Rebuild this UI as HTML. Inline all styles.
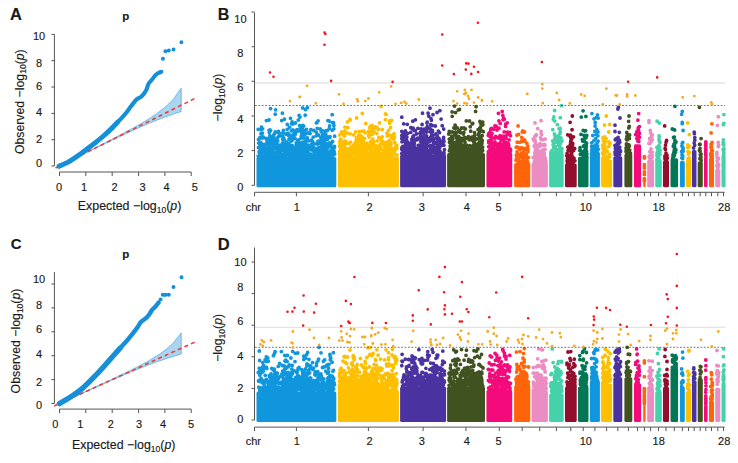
<!DOCTYPE html><html><head><meta charset="utf-8"><style>html,body{margin:0;padding:0;background:#fff;}svg{display:block;}svg text{stroke:#1a1a1a;stroke-width:0.15px;}</style></head><body>
<svg width="738" height="463" viewBox="0 0 738 463" font-family='"Liberation Sans", sans-serif' fill="#1a1a1a">
<rect width="738" height="463" fill="#fff"/>
<path d="M181.2 88.2L173.3 99.3L168.7 104.0L165.4 107.0L162.8 109.1L160.7 110.7L159.0 112.0L157.4 113.1L156.1 114.0L154.9 114.9L153.8 115.6L152.8 116.3L151.9 116.9L151.0 117.4L150.3 117.9L149.5 118.4L148.8 118.8L148.2 119.2L147.5 119.6L147.0 120.0L146.4 120.3L145.9 120.6L145.4 120.9L144.4 121.5L144.0 121.8L143.1 122.3L142.7 122.5L141.9 123.0L141.6 123.2L140.9 123.6L140.2 124.0L139.6 124.3L139.0 124.7L138.5 125.0L137.7 125.4L137.2 125.7L136.5 126.1L136.0 126.4L135.4 126.7L134.8 127.1L134.2 127.4L133.5 127.8L133.0 128.1L132.3 128.5L131.7 128.8L131.1 129.1L130.4 129.5L129.9 129.8L129.2 130.1L128.7 130.5L128.0 130.8L127.4 131.1L126.8 131.5L126.2 131.8L125.5 132.2L124.9 132.5L124.4 132.8L123.7 133.1L123.1 133.5L122.5 133.8L121.9 134.1L121.3 134.4L120.7 134.8L120.1 135.1L119.5 135.4L118.9 135.7L118.2 136.0L117.6 136.4L117.0 136.7L116.4 137.0L115.8 137.3L115.2 137.7L114.6 138.0L113.9 138.3L113.3 138.6L112.7 138.9L112.1 139.3L111.5 139.6L110.9 139.9L110.3 140.2L109.7 140.5L109.1 140.8L108.4 141.2L107.8 141.5L107.2 141.8L106.6 142.1L106.0 142.4L105.4 142.7L104.8 143.1L104.2 143.4L103.5 143.7L102.9 144.0L102.3 144.3L101.7 144.6L101.1 144.9L100.5 145.3L99.9 145.6L99.3 145.9L98.7 146.2L98.0 146.5L97.4 146.8L96.8 147.1L96.2 147.4L95.6 147.8L95.0 148.1L94.4 148.4L93.8 148.7L93.1 149.0L92.5 149.3L91.9 149.6L91.3 149.9L90.7 150.2L90.1 150.6L89.5 150.9L88.9 151.2L88.3 151.5L87.6 151.8L87.0 152.1L86.4 152.4L85.8 152.7L85.2 153.0L84.6 153.3L84.0 153.7L83.4 154.0L82.7 154.3L82.1 154.6L81.5 154.9L80.9 155.2L80.3 155.5L79.7 155.8L79.1 156.1L78.5 156.4L77.9 156.7L77.2 157.1L76.6 157.4L76.0 157.7L75.4 158.0L74.8 158.3L74.2 158.6L73.6 158.9L73.0 159.2L72.3 159.5L71.7 159.8L71.1 160.1L70.5 160.4L69.9 160.7L69.3 161.1L68.7 161.4L68.1 161.7L67.5 162.0L66.8 162.3L66.2 162.6L65.6 162.9L65.0 163.2L64.4 163.5L63.8 163.8L63.2 164.1L62.6 164.4L61.9 164.8L61.3 165.1L60.7 165.4L60.1 165.7L59.5 166.0L59.5 166.0L60.1 165.7L60.7 165.4L61.3 165.1L61.9 164.8L62.6 164.5L63.2 164.2L63.8 163.9L64.4 163.6L65.0 163.3L65.6 163.0L66.2 162.7L66.8 162.4L67.5 162.1L68.1 161.8L68.7 161.5L69.3 161.2L69.9 160.9L70.5 160.6L71.1 160.3L71.7 160.0L72.3 159.6L73.0 159.3L73.6 159.0L74.2 158.7L74.8 158.4L75.4 158.1L76.0 157.8L76.6 157.5L77.2 157.2L77.9 156.9L78.5 156.6L79.1 156.3L79.7 156.0L80.3 155.7L80.9 155.4L81.5 155.1L82.1 154.8L82.7 154.5L83.4 154.2L84.0 153.9L84.6 153.6L85.2 153.3L85.8 153.0L86.4 152.7L87.0 152.4L87.6 152.1L88.3 151.8L88.9 151.5L89.5 151.2L90.1 150.9L90.7 150.6L91.3 150.3L91.9 150.0L92.5 149.7L93.1 149.4L93.8 149.1L94.4 148.8L95.0 148.5L95.6 148.2L96.2 147.9L96.8 147.6L97.4 147.3L98.0 147.0L98.7 146.7L99.3 146.4L99.9 146.1L100.5 145.8L101.1 145.5L101.7 145.2L102.3 144.9L102.9 144.6L103.5 144.3L104.2 144.0L104.8 143.7L105.4 143.4L106.0 143.1L106.6 142.8L107.2 142.5L107.8 142.2L108.4 141.9L109.1 141.6L109.7 141.3L110.3 141.0L110.9 140.8L111.5 140.5L112.1 140.2L112.7 139.9L113.3 139.6L113.9 139.3L114.6 139.0L115.2 138.7L115.8 138.4L116.4 138.1L117.0 137.8L117.6 137.5L118.2 137.2L118.9 136.9L119.5 136.7L120.1 136.4L120.7 136.1L121.3 135.8L121.9 135.5L122.5 135.2L123.1 135.0L123.7 134.6L124.4 134.4L124.9 134.1L125.5 133.8L126.2 133.5L126.8 133.2L127.4 132.9L128.0 132.7L128.7 132.4L129.2 132.1L129.9 131.8L130.4 131.6L131.1 131.2L131.7 131.0L132.3 130.7L133.0 130.4L133.5 130.2L134.2 129.8L134.8 129.6L135.4 129.3L136.0 129.0L136.5 128.8L137.2 128.5L137.7 128.3L138.5 127.9L139.0 127.7L139.6 127.4L140.2 127.1L140.9 126.8L141.6 126.5L141.9 126.4L142.7 126.0L143.1 125.9L144.0 125.5L144.4 125.3L145.4 124.9L145.9 124.7L146.4 124.5L147.0 124.2L147.5 124.0L148.2 123.7L148.8 123.4L149.5 123.1L150.3 122.8L151.0 122.5L151.9 122.2L152.8 121.8L153.8 121.4L154.9 120.9L156.1 120.5L157.4 119.9L159.0 119.3L160.7 118.6L162.8 117.9L165.4 116.9L168.7 115.7L173.3 114.1L181.2 111.5Z" fill="#a9d5f1" stroke="#55aee3" stroke-width="0.8"/>
<line x1="54.2" y1="168.6" x2="194.7" y2="98.5" stroke="#f03a3a" stroke-width="1.6" stroke-dasharray="4 3.2" stroke-dashoffset="-1.5"/>
<path d="M59.1 166.2C60.6 165.5 65.1 163.8 68.1 162.2C71.1 160.5 74.2 158.4 77.2 156.3C80.2 154.2 82.8 152.2 85.8 149.9C88.8 147.6 92.6 144.8 95.4 142.6C98.2 140.4 100.3 138.7 102.9 136.5C105.5 134.3 108.3 131.7 110.8 129.3C113.2 126.9 115.2 124.7 117.6 122.2C120.0 119.7 122.8 116.8 125.1 114.1C127.4 111.4 129.3 108.5 131.2 106.1C133.1 103.7 134.7 101.2 136.4 99.6C138.2 98.0 140.0 97.9 141.7 96.3C143.3 94.7 145.2 92.1 146.3 90.0C147.4 87.9 147.6 85.6 148.5 83.9C149.4 82.2 150.5 81.5 151.6 80.1C152.7 78.7 154.2 76.5 155.3 75.3C156.5 74.1 157.5 73.6 158.5 73.0C159.5 72.4 160.9 72.0 161.4 71.8" stroke="#1590d8" stroke-width="4.1" stroke-linecap="round" stroke-linejoin="round" fill="none"/>
<path d="M59.1 166.2C60.6 165.5 65.1 163.8 68.1 162.2C71.1 160.5 74.2 158.4 77.2 156.3C80.2 154.2 82.8 152.2 85.8 149.9C88.8 147.6 92.6 144.8 95.4 142.6C98.2 140.4 100.3 138.7 102.9 136.5C105.5 134.3 108.3 131.7 110.8 129.3C113.2 126.9 116.5 123.4 117.6 122.2" stroke="#1590d8" stroke-width="4.9" stroke-linecap="round" stroke-linejoin="round" fill="none"/>
<path d="M162.9 58.8h0M165.4 51.3h0M168.8 50.6h0M173.5 49.4h0M181.4 42.3h0" stroke="#1590d8" stroke-width="4.0" stroke-linecap="round" fill="none"/>
<path d="M54.4 34.4V166.0" stroke="#555555" stroke-width="1" fill="none"/>
<path d="M51.4 166.0H54.4M51.4 139.7H54.4M51.4 113.4H54.4M51.4 87.0H54.4M51.4 60.7H54.4M51.4 34.4H54.4" stroke="#555555" stroke-width="1" fill="none"/>
<text x="39.1" y="40.2" text-anchor="middle" font-size="11">10</text>
<text x="39.1" y="66.9" text-anchor="middle" font-size="11">8</text>
<text x="39.1" y="90.2" text-anchor="middle" font-size="11">6</text>
<text x="39.1" y="115.6" text-anchor="middle" font-size="11">4</text>
<text x="39.1" y="143.3" text-anchor="middle" font-size="11">2</text>
<text x="39.1" y="166.7" text-anchor="middle" font-size="11">0</text>
<path d="M59.5 172H191.2" stroke="#555555" stroke-width="1" fill="none"/>
<path d="M59.5 172v4M85.8 172v4M112.2 172v4M138.6 172v4M164.9 172v4M191.2 172v4" stroke="#555555" stroke-width="1" fill="none"/>
<text x="59" y="190.8" text-anchor="middle" font-size="11">0</text>
<text x="84" y="190.8" text-anchor="middle" font-size="11">1</text>
<text x="114.5" y="190.8" text-anchor="middle" font-size="11">2</text>
<text x="142.5" y="190.8" text-anchor="middle" font-size="11">3</text>
<text x="166.6" y="190.8" text-anchor="middle" font-size="11">4</text>
<text x="194.7" y="190.8" text-anchor="middle" font-size="11">5</text>
<text x="129.6" y="210.4" text-anchor="middle" font-size="12.4">Expected &#8722;log<tspan font-size="8.5" dy="2.5">10</tspan><tspan dy="-2.5">(</tspan><tspan font-style="italic">p</tspan>)</text>
<text transform="translate(23.9 101.7) rotate(-90)" text-anchor="middle" font-size="12.3">Observed &#8722;log<tspan font-size="8.5" dy="2.5">10</tspan><tspan dy="-2.5">(</tspan><tspan font-style="italic">p</tspan>)</text>
<text x="125.7" y="19.8" text-anchor="middle" font-size="11.5" font-weight="bold">p</text>
<text x="10" y="19.5" font-size="16.5" font-weight="bold">A</text>
<path d="M181.2 332.9L173.3 342.9L168.7 347.2L165.4 349.9L162.8 351.8L160.7 353.3L159.0 354.5L157.4 355.5L156.1 356.3L154.9 357.1L153.8 357.7L152.8 358.3L151.9 358.9L151.0 359.4L150.3 359.8L149.5 360.3L148.8 360.7L148.2 361.0L147.5 361.4L147.0 361.7L146.4 362.0L145.9 362.3L145.4 362.6L144.4 363.1L144.0 363.4L143.1 363.8L142.7 364.0L141.9 364.4L141.6 364.6L140.9 365.0L140.2 365.3L139.6 365.7L139.0 366.0L138.5 366.3L137.7 366.7L137.2 366.9L136.5 367.3L136.0 367.5L135.4 367.9L134.8 368.2L134.2 368.5L133.5 368.8L133.0 369.1L132.3 369.4L131.7 369.7L131.1 370.0L130.4 370.4L129.9 370.6L129.2 370.9L128.7 371.2L128.0 371.6L127.4 371.8L126.8 372.1L126.2 372.5L125.5 372.8L124.9 373.1L124.4 373.3L123.7 373.6L123.1 374.0L122.5 374.2L121.9 374.6L121.3 374.8L120.7 375.1L120.1 375.4L119.5 375.7L118.9 376.0L118.2 376.3L117.6 376.6L117.0 376.9L116.4 377.2L115.8 377.5L115.2 377.8L114.6 378.1L113.9 378.3L113.3 378.6L112.7 378.9L112.1 379.2L111.5 379.5L110.9 379.8L110.3 380.1L109.7 380.4L109.1 380.7L108.4 380.9L107.8 381.2L107.2 381.5L106.6 381.8L106.0 382.1L105.4 382.4L104.8 382.7L104.2 383.0L103.5 383.2L102.9 383.5L102.3 383.8L101.7 384.1L101.1 384.4L100.5 384.7L99.9 384.9L99.3 385.2L98.7 385.5L98.0 385.8L97.4 386.1L96.8 386.4L96.2 386.6L95.6 386.9L95.0 387.2L94.4 387.5L93.8 387.8L93.1 388.1L92.5 388.3L91.9 388.6L91.3 388.9L90.7 389.2L90.1 389.5L89.5 389.8L88.9 390.0L88.3 390.3L87.6 390.6L87.0 390.9L86.4 391.2L85.8 391.4L85.2 391.7L84.6 392.0L84.0 392.3L83.4 392.6L82.7 392.8L82.1 393.1L81.5 393.4L80.9 393.7L80.3 394.0L79.7 394.3L79.1 394.5L78.5 394.8L77.9 395.1L77.2 395.4L76.6 395.7L76.0 395.9L75.4 396.2L74.8 396.5L74.2 396.8L73.6 397.1L73.0 397.3L72.3 397.6L71.7 397.9L71.1 398.2L70.5 398.5L69.9 398.7L69.3 399.0L68.7 399.3L68.1 399.6L67.5 399.9L66.8 400.1L66.2 400.4L65.6 400.7L65.0 401.0L64.4 401.2L63.8 401.5L63.2 401.8L62.6 402.1L61.9 402.4L61.3 402.7L60.7 402.9L60.1 403.2L59.5 403.5L59.5 403.5L60.1 403.2L60.7 403.0L61.3 402.7L61.9 402.4L62.6 402.1L63.2 401.9L63.8 401.6L64.4 401.3L65.0 401.0L65.6 400.8L66.2 400.5L66.8 400.2L67.5 399.9L68.1 399.7L68.7 399.4L69.3 399.1L69.9 398.8L70.5 398.6L71.1 398.3L71.7 398.0L72.3 397.7L73.0 397.5L73.6 397.2L74.2 396.9L74.8 396.6L75.4 396.4L76.0 396.1L76.6 395.8L77.2 395.5L77.9 395.3L78.5 395.0L79.1 394.7L79.7 394.4L80.3 394.2L80.9 393.9L81.5 393.6L82.1 393.3L82.7 393.1L83.4 392.8L84.0 392.5L84.6 392.2L85.2 392.0L85.8 391.7L86.4 391.4L87.0 391.1L87.6 390.9L88.3 390.6L88.9 390.3L89.5 390.1L90.1 389.8L90.7 389.5L91.3 389.2L91.9 389.0L92.5 388.7L93.1 388.4L93.8 388.1L94.4 387.9L95.0 387.6L95.6 387.3L96.2 387.1L96.8 386.8L97.4 386.5L98.0 386.2L98.7 386.0L99.3 385.7L99.9 385.4L100.5 385.2L101.1 384.9L101.7 384.6L102.3 384.3L102.9 384.1L103.5 383.8L104.2 383.5L104.8 383.3L105.4 383.0L106.0 382.7L106.6 382.5L107.2 382.2L107.8 381.9L108.4 381.6L109.1 381.4L109.7 381.1L110.3 380.8L110.9 380.6L111.5 380.3L112.1 380.0L112.7 379.8L113.3 379.5L113.9 379.2L114.6 379.0L115.2 378.7L115.8 378.5L116.4 378.2L117.0 377.9L117.6 377.7L118.2 377.4L118.9 377.1L119.5 376.9L120.1 376.6L120.7 376.3L121.3 376.1L121.9 375.8L122.5 375.5L123.1 375.3L123.7 375.0L124.4 374.8L124.9 374.5L125.5 374.3L126.2 374.0L126.8 373.7L127.4 373.5L128.0 373.2L128.7 373.0L129.2 372.7L129.9 372.4L130.4 372.2L131.1 371.9L131.7 371.7L132.3 371.4L133.0 371.2L133.5 371.0L134.2 370.7L134.8 370.4L135.4 370.2L136.0 369.9L136.5 369.7L137.2 369.4L137.7 369.2L138.5 368.9L139.0 368.7L139.6 368.5L140.2 368.2L140.9 367.9L141.6 367.7L141.9 367.5L142.7 367.2L143.1 367.1L144.0 366.7L144.4 366.6L145.4 366.2L145.9 366.0L146.4 365.8L147.0 365.6L147.5 365.3L148.2 365.1L148.8 364.8L149.5 364.6L150.3 364.3L151.0 364.0L151.9 363.7L152.8 363.3L153.8 363.0L154.9 362.6L156.1 362.1L157.4 361.7L159.0 361.1L160.7 360.5L162.8 359.8L165.4 358.9L168.7 357.8L173.3 356.4L181.2 354.0Z" fill="#a9d5f1" stroke="#55aee3" stroke-width="0.8"/>
<line x1="54.2" y1="405.9" x2="194.7" y2="342.2" stroke="#f03a3a" stroke-width="1.6" stroke-dasharray="4 3.2" stroke-dashoffset="1.0"/>
<path d="M59.4 403.7C60.2 403.2 62.6 401.8 64.5 400.6C66.4 399.5 68.0 398.7 70.8 396.8C73.6 394.9 78.0 392.1 81.6 389.1C85.2 386.1 88.8 382.4 92.4 378.7C96.0 375.0 100.3 370.4 103.2 367.2C106.1 364.0 107.2 362.6 110.0 359.5C112.8 356.4 117.3 351.3 120.0 348.3C122.7 345.3 124.0 344.1 126.0 341.7C128.1 339.3 130.4 336.6 132.3 334.2C134.2 331.8 136.3 329.0 137.7 327.0C139.1 325.0 139.5 323.6 140.9 322.1C142.3 320.6 144.9 319.2 146.3 317.8C147.8 316.4 148.7 315.2 149.6 314.0C150.5 312.8 150.7 311.6 151.7 310.3C152.7 309.1 154.3 307.8 155.5 306.5C156.7 305.2 158.1 303.2 158.6 302.6" stroke="#1590d8" stroke-width="4.4" stroke-linecap="round" stroke-linejoin="round" fill="none"/>
<path d="M59.4 403.7C60.2 403.2 62.6 401.8 64.5 400.6C66.4 399.5 68.0 398.7 70.8 396.8C73.6 394.9 78.0 392.1 81.6 389.1C85.2 386.1 88.8 382.4 92.4 378.7C96.0 375.0 100.3 370.4 103.2 367.2C106.1 364.0 107.2 362.6 110.0 359.5C112.8 356.4 118.3 350.2 120.0 348.3" stroke="#1590d8" stroke-width="5.3" stroke-linecap="round" stroke-linejoin="round" fill="none"/>
<path d="M160.6 299.4h0M162.8 294.7h0M165.7 294.7h0M168.8 294.7h0M173.5 287.1h0M181.5 277.2h0" stroke="#1590d8" stroke-width="4.0" stroke-linecap="round" fill="none"/>
<path d="M54.4 272.0V403.5" stroke="#555555" stroke-width="1" fill="none"/>
<path d="M51.4 403.5H54.4M51.4 379.6H54.4M51.4 355.7H54.4M51.4 331.8H54.4M51.4 307.9H54.4M51.4 284.0H54.4" stroke="#555555" stroke-width="1" fill="none"/>
<text x="39.1" y="282.5" text-anchor="middle" font-size="11">10</text>
<text x="39.1" y="309.3" text-anchor="middle" font-size="11">8</text>
<text x="39.1" y="333.1" text-anchor="middle" font-size="11">6</text>
<text x="39.1" y="357.7" text-anchor="middle" font-size="11">4</text>
<text x="39.1" y="385.9" text-anchor="middle" font-size="11">2</text>
<text x="39.1" y="409.1" text-anchor="middle" font-size="11">0</text>
<path d="M59.5 409.1H191.2" stroke="#555555" stroke-width="1" fill="none"/>
<path d="M59.5 409.1v4M85.8 409.1v4M112.2 409.1v4M138.6 409.1v4M164.9 409.1v4M191.2 409.1v4" stroke="#555555" stroke-width="1" fill="none"/>
<text x="55.3" y="427.8" text-anchor="middle" font-size="11">0</text>
<text x="80.2" y="427.8" text-anchor="middle" font-size="11">1</text>
<text x="110.8" y="427.8" text-anchor="middle" font-size="11">2</text>
<text x="139" y="427.8" text-anchor="middle" font-size="11">3</text>
<text x="163.1" y="427.8" text-anchor="middle" font-size="11">4</text>
<text x="191" y="427.8" text-anchor="middle" font-size="11">5</text>
<text x="123.7" y="449.4" text-anchor="middle" font-size="12.4">Expected &#8722;log<tspan font-size="8.5" dy="2.5">10</tspan><tspan dy="-2.5">(</tspan><tspan font-style="italic">p</tspan>)</text>
<text transform="translate(20.2 341) rotate(-90)" text-anchor="middle" font-size="12.3">Observed &#8722;log<tspan font-size="8.5" dy="2.5">10</tspan><tspan dy="-2.5">(</tspan><tspan font-style="italic">p</tspan>)</text>
<text x="125.7" y="257.7" text-anchor="middle" font-size="11.5" font-weight="bold">p</text>
<text x="10.8" y="248.9" font-size="15" font-weight="bold">C</text>
<rect x="256.5" y="157.1" width="79.8" height="30.1" rx="1.5" fill="#0f96dc"/>
<rect x="337.8" y="156.2" width="61.1" height="31.0" rx="1.5" fill="#fdbf00"/>
<rect x="400.1" y="154.8" width="46.0" height="32.4" rx="1.5" fill="#4a33a0"/>
<rect x="447.1" y="153.1" width="37.9" height="34.1" rx="1.5" fill="#3f521f"/>
<rect x="486.4" y="152.5" width="25.8" height="34.7" rx="1.5" fill="#f50a7c"/>
<rect x="514.1" y="163.1" width="16.2" height="24.1" rx="1.5" fill="#ff640a"/>
<rect x="531.5" y="162.4" width="16.4" height="24.8" rx="1.5" fill="#eb8cc3"/>
<rect x="549.1" y="154.6" width="14.6" height="32.6" rx="1.5" fill="#45d2aa"/>
<rect x="565.0" y="163.5" width="11.7" height="23.7" rx="1.5" fill="#930d2d"/>
<rect x="578.0" y="156.7" width="10.5" height="30.5" rx="1.5" fill="#037656"/>
<rect x="589.8" y="151.7" width="10.1" height="35.5" rx="1.5" fill="#0f96dc"/>
<rect x="601.1" y="159.7" width="11.0" height="27.5" rx="1.5" fill="#fdbf00"/>
<rect x="613.3" y="156.2" width="9.0" height="31.0" rx="1.5" fill="#4a33a0"/>
<rect x="624.4" y="153.9" width="7.9" height="33.3" rx="1.5" fill="#3f521f"/>
<rect x="633.9" y="144.2" width="7.2" height="43.0" rx="1.5" fill="#f50a7c"/>
<rect x="643.2" y="181.8" width="2.4" height="5.4" rx="1.5" fill="#ff640a"/>
<rect x="647.2" y="159.7" width="6.8" height="27.5" rx="1.5" fill="#eb8cc3"/>
<rect x="655.2" y="159.5" width="6.6" height="27.7" rx="1.5" fill="#45d2aa"/>
<rect x="663.0" y="160.2" width="6.0" height="27.0" rx="1.5" fill="#930d2d"/>
<rect x="670.5" y="158.3" width="7.6" height="28.9" rx="1.5" fill="#037656"/>
<rect x="679.9" y="160.9" width="4.9" height="26.3" rx="1.5" fill="#0f96dc"/>
<rect x="686.0" y="159.0" width="5.0" height="28.2" rx="1.5" fill="#fdbf00"/>
<rect x="691.9" y="149.9" width="4.6" height="37.3" rx="1.5" fill="#4a33a0"/>
<rect x="697.7" y="161.6" width="5.1" height="25.6" rx="1.5" fill="#3f521f"/>
<rect x="704.0" y="156.4" width="3.6" height="30.8" rx="1.5" fill="#f50a7c"/>
<rect x="709.0" y="157.1" width="5.0" height="30.1" rx="1.5" fill="#ff640a"/>
<rect x="715.2" y="169.0" width="5.1" height="18.2" rx="1.5" fill="#eb8cc3"/>
<rect x="721.5" y="154.5" width="4.1" height="32.7" rx="1.5" fill="#45d2aa"/>
<path transform="scale(0.1)" d="M2754 1318h0M2686 1497h0M3041 1560h0M2836 1483h0M2729 1538h0M3254 1550h0M3007 1302h0M3261 1531h0M3232 1501h0M3016 1426h0M2686 1565h0M3222 1526h0M3259 1364h0M3105 1541h0M3181 1208h0M3277 1559h0M3022 1545h0M3339 1254h0M3028 1533h0M3271 1438h0M3055 1095h0M3314 1470h0M3061 1508h0M3294 1429h0M2801 1525h0M2626 1288h0M2778 1491h0M3235 1548h0M3065 1496h0M2826 1454h0M3055 1429h0M3084 1503h0M3230 1484h0M3139 1505h0M3012 1548h0M2911 1564h0M2670 1494h0M3026 1079h0M2845 1570h0M2938 1560h0M3064 1409h0M2752 1142h0M3252 1465h0M2916 1237h0M2890 1392h0M3040 1381h0M2759 1468h0M3024 1570h0M3291 1524h0M2765 1388h0M3091 1565h0M3146 1489h0M2865 1502h0M2733 1488h0M2759 1429h0M3041 1482h0M2951 1383h0M2624 1511h0M2717 1367h0M3204 1422h0M2778 1410h0M2771 1379h0M2715 1554h0M3101 1550h0M3080 1451h0M3107 1551h0M2981 1445h0M2782 1542h0M2979 1478h0M3103 1493h0M3174 1529h0M3224 1537h0M3211 1312h0M3074 1506h0M3266 1563h0M2844 1192h0M3034 1545h0M2804 1519h0M3308 1563h0M2628 1459h0M2867 1546h0M3208 1478h0M2617 1339h0M2824 1432h0M3191 1515h0M2602 1506h0M3262 1511h0M2905 1183h0M2981 1524h0M2649 1569h0M2844 1399h0M3233 1383h0M2983 1201h0M3013 1512h0M2584 1476h0M3148 1516h0M2610 1566h0M3115 1402h0M2958 1562h0M3239 1385h0M2787 1364h0M3002 1291h0M3308 1510h0M2684 1498h0M2899 1477h0M3031 1354h0M3072 1512h0M2834 1492h0M2936 1525h0M2682 1389h0M3070 1486h0M2607 1519h0M3079 1530h0M3091 1566h0M2728 1549h0M3042 1456h0M2947 1554h0M3032 1304h0M2610 1530h0M2993 1530h0M2602 1554h0M3264 1555h0M2641 1505h0M3020 1570h0M2767 1441h0M2724 1525h0M2942 1506h0M3323 1226h0M3096 1569h0M3248 1340h0M3302 1457h0M2997 1535h0M2903 1381h0M3089 1547h0M2996 1257h0M2958 1570h0M2617 1546h0M2724 1512h0M3335 1527h0M2988 1431h0M3268 1370h0M2617 1441h0M3173 1441h0M2612 1381h0M3219 1522h0M3140 1526h0M2804 1567h0M3342 1518h0M3015 1327h0M2646 1514h0M3073 1470h0M2663 1478h0M2860 1342h0M2872 1293h0M3235 1496h0M2706 1306h0M3257 1437h0M2908 1451h0M3086 1408h0M2895 1476h0M3335 1505h0M3321 1528h0M3026 1281h0M2634 1539h0M3104 1558h0M3261 1522h0M2841 1461h0M3198 1432h0M2713 1547h0M2618 1558h0M3052 1518h0M3144 1534h0M2593 1470h0M3323 1302h0M3078 1502h0M2967 1565h0M2684 1504h0M2717 1442h0M2884 1353h0M3227 1409h0M3336 1227h0M2932 1476h0M3209 1446h0M2897 1273h0M3251 1399h0M2711 1566h0M3201 1414h0M2808 1565h0M3058 1418h0M2978 1530h0M2987 1560h0M2809 1515h0M2942 1519h0M3287 1543h0M3168 1543h0M3227 1370h0M2617 1475h0M2610 1335h0M3012 1373h0M2685 1538h0M3292 1286h0M2654 1533h0M2891 1344h0M2931 1365h0M3283 1371h0M3090 1491h0M2868 1439h0M2994 1472h0M2620 1504h0M3138 1305h0M3027 1255h0M2924 1356h0M2591 1520h0M2743 1473h0M2693 1326h0M2975 1464h0M2704 1561h0M3049 1538h0M3015 1497h0M3047 1418h0M2601 1467h0M3041 1525h0M2705 1543h0M2626 1492h0M3285 1521h0M2997 1479h0M3193 1512h0M3067 1479h0M3202 1290h0M3091 1552h0M2981 1513h0M3296 1258h0M2914 1485h0M2880 1508h0M3244 1361h0M3256 1308h0M2689 1477h0M2611 1445h0M2964 1558h0M2954 1230h0M3146 1537h0M2957 1482h0M2961 1448h0M2776 1560h0M2703 1501h0M2898 1485h0M3054 1337h0M2698 1415h0M2698 1359h0M3098 1553h0M2582 1293h0M2697 1569h0M3234 1421h0M3272 1395h0M3325 1483h0M2690 1200h0M2600 1375h0M3148 1497h0M3308 1566h0M3184 1538h0M2811 1513h0M3322 1544h0M2817 1565h0M2887 1450h0M3296 1552h0M2955 1568h0M2763 1469h0M3173 1561h0M3231 1562h0M2644 1480h0M3036 1540h0M2671 1419h0M2928 1567h0M3166 1554h0M3192 1420h0M3023 1449h0M2825 1500h0M2971 1315h0M2853 1514h0M2812 1563h0M2723 1454h0M3346 1541h0M2939 1478h0M3081 1330h0M2702 1484h0M3019 1565h0M2700 1428h0M3013 1359h0M3337 1525h0M3011 1493h0M2664 1206h0M2662 1487h0M3210 1503h0M2744 1337h0M2838 1449h0M3183 1350h0M2586 1568h0M3338 1288h0M2950 1503h0M2715 1394h0M3345 1464h0M2756 1098h0M3222 1306h0M2795 1470h0M3180 1492h0M3176 1431h0M3032 1558h0M2846 1439h0M2764 1520h0M2828 1488h0M3313 1434h0M2943 1340h0M3250 1516h0M2824 1132h0M2856 1523h0M3164 1229h0M3268 1461h0M3033 1495h0M2694 1475h0M2900 1531h0M2641 1443h0M2627 1542h0M2934 1510h0M3186 1477h0M2582 1561h0M2881 1333h0M2718 1431h0M3299 1376h0M3279 1562h0M2606 1532h0M2849 1526h0M2922 1457h0M2923 1363h0M3002 1443h0M3240 1468h0M2928 1543h0M2960 1522h0M3281 1537h0M3048 1351h0M3030 1445h0M2968 1497h0M3343 1476h0M3047 1325h0M2866 1493h0M3015 1564h0M2951 1553h0M3081 1561h0M3121 1557h0M2816 1547h0M3025 1559h0M3065 1293h0M3235 1484h0M2900 1537h0M2740 1526h0M2925 1400h0M3234 1499h0M2994 1489h0M2604 1533h0M3203 1535h0M3230 1494h0M3141 1478h0M3210 1541h0M2793 1550h0M2761 1564h0M2899 1473h0M2955 1543h0M2742 1387h0M3208 1372h0M3116 1453h0M2943 1322h0M3167 1487h0M2967 1538h0M2911 1510h0M2826 1393h0M2746 1553h0M3223 1406h0M2717 1532h0M2973 1523h0M3309 1568h0M2836 1378h0M2585 1394h0M2801 1520h0M2669 1413h0M3324 1513h0M2929 1300h0M2830 1327h0M2795 1361h0M2866 1336h0M3197 1411h0M3074 1380h0M2868 1513h0M2943 1503h0M3090 1542h0M2931 1355h0M3028 1432h0M2940 1369h0M2912 1475h0M2921 1220h0M3229 1503h0M2975 1410h0M2708 1420h0M2596 1532h0M3052 1152h0M3191 1524h0M3105 1549h0M2886 1551h0M2694 1561h0M3207 1523h0M3000 1171h0M2632 1369h0M2932 1482h0M2704 1518h0M3319 1523h0M3012 1381h0M3279 1206h0M2700 1298h0M3329 1486h0M3135 1565h0M2706 1086h0M3306 1531h0M2999 1429h0M2655 1558h0M3231 1398h0M2834 1303h0M2813 1492h0M2812 1534h0M3237 1563h0M2979 1547h0M3000 1306h0M3267 1566h0M2792 1452h0M3132 1371h0M3063 1565h0M2824 1567h0M3126 1505h0M2736 1355h0M3037 1261h0M2901 1550h0M2820 1506h0M3014 1447h0M2868 1421h0M3040 1565h0M3059 1481h0M3193 1541h0M2895 1565h0M3047 1512h0M2991 1154h0M3300 1367h0M2888 1517h0M2917 1391h0M3163 1322h0M2632 1378h0M3321 1530h0M2873 1245h0M2854 1529h0M3044 1477h0M2821 1546h0M2842 1566h0M2962 1550h0M3025 1260h0M2756 1563h0M2737 1470h0M3169 1227h0M3167 1492h0M2899 1568h0M3270 1487h0M2794 1526h0M3187 1425h0M2615 1272h0M3070 1561h0M2640 1496h0M3055 1506h0M2838 1564h0M2856 1521h0M2661 1384h0M2797 1549h0M2815 1481h0M3000 1473h0M2931 1541h0M3115 1570h0M3195 1529h0M2896 1563h0M2829 1549h0M2817 1206h0M3040 1565h0M3103 1564h0M2709 1488h0M3242 1563h0M2739 1415h0M2727 1551h0M2757 1521h0M2633 1531h0M2989 1521h0M3028 1558h0M2883 1435h0M2747 1485h0M3020 1517h0M3186 1539h0M3101 1336h0M3227 1350h0M3277 1481h0M2913 1308h0M2613 1294h0M3126 1413h0M3013 1484h0M3242 1432h0M3180 1411h0M3260 1569h0M2785 1315h0M2890 1358h0M2962 1429h0M3240 1459h0M2788 1486h0M2826 1559h0M3301 1528h0M3323 1546h0M3212 1387h0M3100 1477h0M2871 1464h0M2814 1544h0M2949 1311h0M2875 1522h0M2805 1543h0M2936 1562h0M2734 1560h0M3275 1303h0M2753 1454h0M3021 1514h0M3028 1421h0M2648 1450h0M3180 1529h0M2813 1478h0M3314 1499h0M2690 1303h0M3346 1362h0M2987 1398h0M2608 1425h0M2742 1427h0M2992 1555h0M3031 1521h0M2646 1528h0M3322 1147h0M3147 1438h0M3037 1507h0M3053 1548h0M2934 1564h0M3020 1492h0M2824 1360h0M3209 1569h0M3247 1519h0M3109 1296h0M2933 1346h0M3143 1535h0M2929 1534h0M2690 1471h0M2862 1423h0M3183 1514h0M2802 1547h0M2645 1498h0M2669 1441h0M3338 1506h0M3003 1488h0M2714 1561h0M3250 1558h0M3213 1474h0M3096 1323h0M3127 1498h0M2651 1528h0M3335 1549h0M2933 1493h0M2624 1331h0M2689 1505h0M2710 1496h0M2602 1443h0M2772 1391h0M3173 1283h0M3237 1527h0M2928 1241h0M2975 1529h0M2692 1539h0M3163 1358h0M3135 1473h0M2810 1507h0M2587 1431h0M2758 1395h0M2798 1511h0M3186 1498h0M2823 1439h0M2674 1422h0M2988 1491h0M3326 1415h0M3260 1309h0M2651 1534h0M3045 1547h0M3197 1563h0M3115 1441h0M3258 1345h0M3179 1560h0M2953 1343h0M2684 1448h0M2786 1548h0M2843 1557h0M2911 1412h0M3123 1443h0M2795 1335h0M3284 1532h0M2780 1326h0M3291 1210h0M2976 1514h0M3208 1501h0M2960 1468h0M2968 1556h0M3322 1555h0M3223 1336h0M3235 1549h0M3021 1429h0M3075 1471h0M2970 1297h0M2680 1509h0M3254 1375h0M3313 1467h0M2866 1551h0M2988 1559h0M3316 1507h0M2799 1542h0M2867 1505h0M3074 1077h0M5971 1514h0M5966 1475h0M5953 1475h0M5940 1481h0M5927 1486h0M5940 1188h0M5960 1481h0M5957 1386h0M5976 1461h0M5929 1511h0M5950 1452h0M5982 1492h0M5952 1224h0M5973 1510h0M5968 1295h0M5925 1508h0M5980 1320h0M5957 1475h0M5946 1487h0M5979 1497h0M5945 1512h0M5971 1430h0M5945 1514h0M5921 1489h0M5920 1492h0M5975 1149h0M5981 1412h0M5916 1463h0M5948 1313h0M5971 1490h0M5982 1181h0M5928 1355h0M5951 1260h0M5921 1477h0M5939 1407h0M5949 1515h0M5962 1346h0M5963 1175h0M5917 1428h0M5917 1503h0M5923 1492h0M5952 1496h0M5945 1477h0M5920 1512h0M5965 1455h0M5979 1358h0M5919 1136h0M6816 1143h0M6820 1544h0M6831 1481h0M6819 1461h0M6830 1477h0M6822 1433h0M6826 1587h0M6828 1493h0M6831 1490h0M6828 1423h0M6828 1561h0M6822 1581h0M6823 1224h0M6831 1513h0M6818 1578h0M6831 1305h0M6817 1514h0M6822 1237h0M6823 1115h0" stroke="#0f96dc" stroke-width="38" stroke-linecap="round" fill="none"/>
<path transform="scale(0.1)" d="M3854 1558h0M3788 1484h0M3945 1370h0M3884 1539h0M3587 1373h0M3657 1500h0M3849 1486h0M3605 1525h0M3816 1434h0M3744 1321h0M3589 1461h0M3649 1459h0M3704 1418h0M3726 1289h0M3496 1559h0M3942 1522h0M3413 1477h0M3577 1459h0M3801 1466h0M3923 1500h0M3473 1331h0M3834 1500h0M3885 1514h0M3758 1560h0M3554 1449h0M3464 1419h0M3413 1516h0M3634 1445h0M3759 1471h0M3786 1295h0M3643 1540h0M3713 1560h0M3781 1552h0M3430 1555h0M3600 1511h0M3852 1513h0M3626 1515h0M3405 1391h0M3417 1552h0M3646 1386h0M3529 1541h0M3901 1525h0M3862 1510h0M3571 1538h0M3501 1479h0M3510 1558h0M3897 1533h0M3617 1502h0M3495 1487h0M3425 1494h0M3795 1229h0M3530 1518h0M3788 1467h0M3736 1417h0M3474 1219h0M3461 1549h0M3608 1400h0M3424 1437h0M3475 1527h0M3434 1331h0M3671 1450h0M3395 1525h0M3561 1404h0M3590 1393h0M3869 1331h0M3739 1539h0M3598 1525h0M3771 1504h0M3907 1501h0M3879 1510h0M3786 1551h0M3919 1508h0M3873 1516h0M3463 1529h0M3730 1490h0M3601 1544h0M3432 1434h0M3446 1509h0M3395 1466h0M3495 1542h0M3562 1545h0M3428 1516h0M3416 1320h0M3641 1311h0M3916 1204h0M3709 1505h0M3715 1539h0M3724 1433h0M3457 1423h0M3720 1255h0M3453 1519h0M3596 1439h0M3841 1558h0M3903 1486h0M3653 1559h0M3410 1393h0M3403 1535h0M3887 1454h0M3565 1373h0M3533 1514h0M3753 1268h0M3876 1352h0M3461 1500h0M3873 1359h0M3691 1371h0M3867 1551h0M3437 1544h0M3453 1526h0M3808 1381h0M3439 1522h0M3646 1511h0M3502 1338h0M3411 1478h0M3724 1343h0M3855 1140h0M3631 1497h0M3395 1527h0M3572 1497h0M3598 1360h0M3590 1516h0M3444 1414h0M3729 1512h0M3899 1543h0M3647 1486h0M3828 1539h0M3409 1421h0M3524 1551h0M3949 1426h0M3505 1421h0M3682 1473h0M3431 1557h0M3862 1555h0M3886 1495h0M3625 1522h0M3624 1443h0M3918 1484h0M3736 1453h0M3799 1551h0M3885 1304h0M3943 1524h0M3702 1476h0M3855 1550h0M3680 1540h0M3632 1407h0M3585 1493h0M3872 1422h0M3596 1525h0M3395 1420h0M3960 1465h0M3906 1277h0M3444 1492h0M3413 1502h0M3565 1517h0M3909 1445h0M3850 1476h0M3624 1510h0M3592 1316h0M3822 1369h0M3706 1264h0M3768 1336h0M3556 1475h0M3600 1452h0M3566 1454h0M3657 1523h0M3751 1537h0M3909 1517h0M3757 1269h0M3625 1497h0M3545 1436h0M3413 1465h0M3523 1464h0M3541 1509h0M3738 1517h0M3910 1525h0M3843 1555h0M3763 1503h0M3910 1209h0M3513 1545h0M3639 1539h0M3937 1392h0M3970 1548h0M3914 1366h0M3495 1530h0M3880 1545h0M3719 1475h0M3449 1548h0M3633 1561h0M3669 1432h0M3452 1546h0M3720 1473h0M3666 1547h0M3888 1350h0M3630 1483h0M3731 1509h0M3643 1518h0M3715 1441h0M3874 1455h0M3944 1423h0M3685 1319h0M3873 1466h0M3497 1509h0M3806 1478h0M3796 1543h0M3968 1457h0M3604 1432h0M3714 1309h0M3502 1199h0M3556 1318h0M3574 1558h0M3614 1464h0M3623 1135h0M3858 1521h0M3945 1514h0M3887 1468h0M3957 1461h0M3423 1543h0M3876 1548h0M3403 1500h0M3636 1550h0M3760 1281h0M3600 1448h0M3685 1356h0M3396 1349h0M3791 1470h0M3847 1423h0M3593 1535h0M3735 1527h0M3446 1477h0M3969 1483h0M3851 1560h0M3680 1450h0M3599 1475h0M3395 1531h0M3422 1530h0M3622 1368h0M3809 1541h0M3709 1478h0M3479 1277h0M3840 1454h0M3639 1554h0M3944 1490h0M3770 1277h0M3664 1519h0M3822 1412h0M3588 1353h0M3713 1466h0M3607 1561h0M3659 1472h0M3701 1493h0M3624 1519h0M3896 1233h0M3709 1543h0M3466 1486h0M3717 1420h0M3791 1556h0M3649 1543h0M3737 1533h0M3832 1551h0M3568 1552h0M3756 1480h0M3554 1540h0M3479 1516h0M3652 1328h0M3895 1210h0M3901 1478h0M3411 1434h0M3885 1545h0M3458 1435h0M3397 1517h0M3772 1409h0M3421 1333h0M3857 1542h0M3637 1547h0M3479 1556h0M3603 1553h0M3669 1477h0M3925 1549h0M3395 1514h0M3757 1475h0M3456 1329h0M3492 1436h0M3606 1555h0M3737 1528h0M3840 1509h0M3877 1537h0M3622 1312h0M3760 1284h0M3541 1460h0M3663 1438h0M3696 1276h0M3782 1481h0M3639 1561h0M3491 1543h0M3756 1456h0M3850 1446h0M3397 1555h0M3718 1520h0M3726 1511h0M3813 1411h0M3777 1552h0M3905 1426h0M3443 1492h0M3451 1444h0M3536 1348h0M3726 1530h0M3600 1508h0M3796 1548h0M3447 1409h0M3709 1340h0M3849 1555h0M3860 1144h0M3763 1484h0M3582 1515h0M3739 1546h0M3594 1504h0M3760 1517h0M3482 1523h0M3767 1542h0M3773 1478h0M3592 1482h0M3823 1295h0M3721 1557h0M3915 1375h0M3894 1405h0M3803 1494h0M3699 1539h0M3398 1455h0M3895 1549h0M3566 1469h0M3723 1332h0M3961 1491h0M3747 1512h0M3730 1524h0M3624 1474h0M3811 1534h0M3848 1535h0M3472 1434h0M3536 1458h0M3801 1542h0M3492 1552h0M3750 1502h0M3607 1357h0M3923 1515h0M3828 1435h0M3854 1196h0M3710 1411h0M3751 1536h0M3847 1515h0M3940 1532h0M3658 1235h0M3604 1561h0M3686 1315h0M3676 1467h0M3449 1310h0M3695 1475h0M3927 1521h0M3871 1494h0M3434 1443h0M3788 1374h0M3897 1555h0M3435 1535h0M3707 1460h0M3730 1516h0M3597 1353h0M3440 1356h0M3771 1561h0M3431 1556h0M3419 1485h0M3537 1454h0M3774 1518h0M3581 1550h0M3686 1535h0M3661 1505h0M3616 1501h0M3894 1549h0M3650 1555h0M3395 1548h0M3595 1495h0M3784 1519h0M3897 1416h0M3678 1555h0M3796 1449h0M3566 1180h0M3575 1414h0M3675 1491h0M3746 1500h0M3630 1535h0M3592 1542h0M3448 1535h0M3731 1552h0M3670 1541h0M3811 1394h0M3864 1517h0M3937 1540h0M3653 1556h0M3639 1518h0M3565 1429h0M3488 1525h0M3931 1486h0M3941 1337h0M3653 1484h0M3756 1503h0M3892 1533h0M3449 1271h0M3551 1473h0M3736 1448h0M3728 1391h0M3625 1405h0M3445 1361h0M3624 1544h0M3528 1500h0M3919 1354h0M3689 1529h0M3582 1405h0M3412 1486h0M3670 1474h0M3500 1194h0M3766 1556h0M3896 1523h0M3439 1503h0M3635 1435h0M3811 1064h0M6028 1581h0M6079 1581h0M6049 1425h0M6042 1557h0M6042 1502h0M6054 1575h0M6043 1376h0M6038 1458h0M6062 1588h0M6061 1386h0M6098 1245h0M6028 1380h0M6091 1420h0M6081 1558h0M6091 1460h0M6038 1488h0M6089 1576h0M6028 1486h0M6094 1565h0M6033 1595h0M6028 1450h0M6047 1370h0M6088 1320h0M6043 1458h0M6034 1409h0M6041 1559h0M6073 1596h0M6046 1483h0M6067 1520h0M6042 1474h0M6045 1251h0M6085 1465h0M6043 1537h0M6098 1545h0M6028 1590h0M6039 1557h0M6047 1442h0M6074 1517h0M6054 1488h0M6049 1480h0M6038 1495h0M6088 1569h0M6028 1537h0M6072 1580h0M6029 1527h0M6058 1566h0M6055 1594h0M6046 1508h0M6040 1477h0M6094 1557h0M6059 1496h0M6054 1514h0M6044 1537h0M6028 1455h0M6101 1435h0M6072 1581h0M6057 1409h0M6063 1160h0M6893 1346h0M6879 1517h0M6877 1476h0M6883 1528h0M6879 1448h0M6893 1523h0M6891 1580h0M6887 1538h0M6885 1542h0M6892 1461h0M6890 1587h0M6890 1521h0M6886 1471h0M6881 1585h0M6877 1229h0" stroke="#fdbf00" stroke-width="38" stroke-linecap="round" fill="none"/>
<path transform="scale(0.1)" d="M4138 1530h0M4018 1493h0M4439 1452h0M4183 1483h0M4088 1499h0M4221 1245h0M4267 1362h0M4089 1481h0M4353 1537h0M4317 1348h0M4251 1478h0M4310 1187h0M4082 1527h0M4432 1400h0M4332 1353h0M4122 1454h0M4075 1518h0M4270 1230h0M4323 1470h0M4182 1453h0M4375 1543h0M4399 1526h0M4314 1530h0M4239 1460h0M4371 1480h0M4422 1257h0M4406 1417h0M4307 1320h0M4100 1510h0M4075 1422h0M4110 1430h0M4401 1514h0M4123 1386h0M4415 1423h0M4202 1534h0M4043 1378h0M4078 1528h0M4210 1379h0M4372 1359h0M4301 1505h0M4370 1125h0M4132 1282h0M4275 1545h0M4294 1408h0M4352 1500h0M4152 1527h0M4384 1423h0M4134 1477h0M4235 1417h0M4210 1288h0M4351 1495h0M4307 1528h0M4209 1500h0M4126 1436h0M4040 1462h0M4359 1339h0M4222 1432h0M4393 1395h0M4133 1444h0M4213 1532h0M4241 1364h0M4401 1513h0M4237 1501h0M4187 1472h0M4018 1384h0M4021 1498h0M4283 1461h0M4399 1107h0M4417 1539h0M4263 1539h0M4251 1425h0M4247 1394h0M4288 1162h0M4132 1459h0M4148 1532h0M4393 1456h0M4201 1329h0M4335 1418h0M4020 1418h0M4079 1507h0M4276 1546h0M4160 1532h0M4265 1437h0M4035 1407h0M4203 1372h0M4142 1389h0M4436 1375h0M4397 1534h0M4053 1545h0M4136 1418h0M4322 1255h0M4265 1360h0M4151 1504h0M4022 1538h0M4359 1424h0M4359 1505h0M4066 1496h0M4144 1435h0M4073 1471h0M4344 1531h0M4309 1536h0M4153 1546h0M4239 1537h0M4349 1432h0M4401 1456h0M4077 1447h0M4195 1387h0M4382 1525h0M4254 1506h0M4121 1440h0M4303 1291h0M4052 1459h0M4018 1172h0M4344 1500h0M4243 1487h0M4316 1523h0M4133 1398h0M4279 1423h0M4394 1447h0M4038 1356h0M4064 1494h0M4390 1411h0M4074 1488h0M4261 1392h0M4171 1526h0M4172 1520h0M4381 1500h0M4234 1325h0M4306 1247h0M4142 1460h0M4353 1260h0M4084 1469h0M4302 1411h0M4267 1534h0M4280 1387h0M4281 1132h0M4216 1391h0M4237 1502h0M4095 1434h0M4092 1450h0M4240 1292h0M4303 1531h0M4030 1335h0M4238 1466h0M4386 1415h0M4341 1490h0M4313 1362h0M4158 1548h0M4055 1447h0M4373 1546h0M4314 1203h0M4325 1522h0M4354 1541h0M4373 1456h0M4255 1319h0M4069 1500h0M4083 1510h0M4406 1543h0M4151 1517h0M4024 1540h0M4172 1511h0M4179 1283h0M4300 1529h0M4207 1348h0M4207 1320h0M4307 1488h0M4206 1485h0M4324 1501h0M4395 1327h0M4037 1238h0M4297 1541h0M4167 1339h0M4293 1536h0M4128 1212h0M4216 1507h0M4307 1455h0M4363 1472h0M4255 1289h0M4257 1397h0M4153 1482h0M4095 1536h0M4400 1463h0M4108 1323h0M4437 1291h0M4376 1403h0M4336 1441h0M4178 1531h0M4106 1452h0M4267 1414h0M4384 1311h0M4324 1304h0M4045 1517h0M4279 1418h0M4276 1540h0M4054 1496h0M4379 1418h0M4225 1132h0M4191 1508h0M4256 1432h0M4188 1489h0M4279 1538h0M4295 1281h0M4381 1398h0M4359 1491h0M4243 1356h0M4039 1463h0M4176 1382h0M4309 1537h0M4302 1513h0M4073 1243h0M4225 1422h0M4305 1381h0M4229 1303h0M4388 1381h0M4278 1510h0M4308 1493h0M4221 1377h0M4272 1318h0M4172 1398h0M4251 1499h0M4309 1509h0M4276 1512h0M4253 1493h0M4208 1418h0M4236 1505h0M4396 1479h0M4127 1537h0M4105 1485h0M4265 1535h0M4131 1495h0M4238 1457h0M4360 1525h0M4266 1493h0M4436 1395h0M4184 1520h0M4397 1523h0M4276 1394h0M4258 1500h0M4250 1393h0M4129 1505h0M4053 1467h0M4102 1453h0M4225 1424h0M4079 1464h0M4119 1528h0M4179 1495h0M4018 1354h0M4388 1405h0M4440 1416h0M4440 1524h0M4310 1478h0M4076 1334h0M4270 1285h0M4264 1321h0M4194 1548h0M4422 1429h0M4131 1363h0M4069 1371h0M4306 1375h0M4164 1486h0M4333 1528h0M4084 1449h0M4366 1480h0M4444 1496h0M4169 1540h0M4153 1307h0M4397 1426h0M4158 1532h0M4440 1544h0M4221 1475h0M4311 1403h0M4114 1543h0M4080 1432h0M4184 1487h0M4144 1305h0M4025 1466h0M4265 1512h0M4405 1429h0M4349 1477h0M4048 1414h0M4388 1464h0M4154 1198h0M4252 1513h0M4401 1539h0M4358 1541h0M4117 1521h0M4228 1470h0M4028 1494h0M4065 1328h0M4236 1536h0M4139 1353h0M4127 1449h0M4080 1499h0M4060 1377h0M4365 1380h0M4184 1530h0M4395 1510h0M4223 1498h0M4122 1288h0M4018 1535h0M4368 1535h0M4317 1377h0M4387 1512h0M4183 1536h0M4155 1532h0M4274 1498h0M4054 1310h0M4330 1147h0M4256 1470h0M4333 1466h0M4167 1515h0M4029 1538h0M4151 1402h0M4117 1395h0M4018 1479h0M4125 1379h0M4411 1191h0M4272 1267h0M4272 1222h0M4069 1491h0M4108 1277h0M4067 1402h0M4325 1316h0M4186 1469h0M4420 1453h0M4062 1347h0M4236 1510h0M4250 1510h0M4035 1527h0M4272 1513h0M4018 1313h0M4384 1427h0M4326 1514h0M4197 1454h0M4269 1516h0M4184 1502h0M4225 1533h0M4234 1498h0M4055 1413h0M4126 1510h0M4214 1439h0M4285 1419h0M4151 1532h0M4139 1463h0M4113 1440h0M4338 1503h0M4341 1388h0M4300 1082h0M6179 1090h0M6174 1496h0M6159 1473h0M6169 1558h0M6153 1533h0M6198 1421h0M6199 1520h0M6188 1431h0M6162 1457h0M6173 1433h0M6181 1373h0M6188 1433h0M6193 1323h0M6185 1557h0M6183 1406h0M6176 1438h0M6161 1494h0M6150 1519h0M6182 1479h0M6187 1551h0M6175 1475h0M6183 1534h0M6155 1477h0M6181 1554h0M6197 1471h0M6158 1388h0M6150 1252h0M6150 1455h0M6184 1546h0M6189 1547h0M6164 1530h0M6152 1398h0M6154 1484h0M6180 1527h0M6156 1471h0M6205 1509h0M6174 1442h0M6200 1180h0M6194 1402h0M6174 1561h0M6150 1315h0M6196 1545h0M6196 1485h0M6152 1544h0M6180 1552h0M6192 1508h0M6167 1394h0M6205 1516h0M6169 1525h0M6184 1073h0M6936 1480h0M6944 1337h0M6948 1402h0M6948 1376h0M6947 1453h0M6942 1430h0M6942 1321h0" stroke="#4a33a0" stroke-width="38" stroke-linecap="round" fill="none"/>
<path transform="scale(0.1)" d="M4711 1495h0M4558 1421h0M4804 1437h0M4754 1483h0M4802 1469h0M4822 1357h0M4556 1479h0M4628 1473h0M4572 1279h0M4727 1235h0M4813 1461h0M4599 1486h0M4541 1479h0M4508 1491h0M4634 1495h0M4578 1436h0M4585 1433h0M4734 1505h0M4516 1420h0M4744 1453h0M4680 1496h0M4555 1126h0M4796 1322h0M4807 1427h0M4650 1422h0M4667 1505h0M4747 1356h0M4722 1237h0M4754 1481h0M4826 1508h0M4579 1493h0M4527 1491h0M4493 1325h0M4625 1507h0M4563 1379h0M4533 1439h0M4521 1521h0M4554 1436h0M4593 1429h0M4575 1468h0M4816 1468h0M4737 1507h0M4766 1529h0M4609 1422h0M4525 1374h0M4615 1280h0M4803 1378h0M4591 1493h0M4809 1380h0M4522 1163h0M4628 1385h0M4778 1481h0M4526 1393h0M4671 1530h0M4733 1528h0M4819 1477h0M4668 1497h0M4498 1395h0M4821 1500h0M4609 1530h0M4640 1280h0M4544 1462h0M4552 1447h0M4811 1476h0M4526 1528h0M4732 1455h0M4493 1391h0M4659 1500h0M4574 1421h0M4829 1248h0M4756 1114h0M4808 1479h0M4774 1489h0M4702 1268h0M4697 1457h0M4733 1513h0M4586 1476h0M4502 1459h0M4552 1518h0M4798 1279h0M4674 1489h0M4763 1492h0M4584 1392h0M4675 1483h0M4720 1471h0M4682 1519h0M4554 1449h0M4640 1478h0M4654 1289h0M4512 1443h0M4624 1514h0M4697 1381h0M4539 1519h0M4623 1501h0M4545 1457h0M4584 1517h0M4574 1505h0M4493 1313h0M4662 1519h0M4722 1399h0M4712 1374h0M4798 1365h0M4707 1312h0M4619 1400h0M4822 1413h0M4684 1492h0M4488 1341h0M4554 1423h0M4724 1239h0M4571 1439h0M4806 1268h0M4744 1453h0M4555 1519h0M4549 1345h0M4521 1528h0M4580 1427h0M4776 1440h0M4781 1297h0M4519 1362h0M4695 1502h0M4616 1469h0M4586 1363h0M4495 1423h0M4565 1448h0M4758 1489h0M4819 1436h0M4780 1489h0M4782 1501h0M4808 1479h0M4665 1451h0M4523 1522h0M4539 1279h0M4738 1423h0M4783 1344h0M4537 1474h0M4716 1488h0M4812 1303h0M4595 1095h0M4552 1285h0M4774 1456h0M4700 1503h0M4654 1523h0M4521 1497h0M4510 1498h0M4730 1503h0M4610 1440h0M4794 1386h0M4779 1441h0M4788 1336h0M4636 1496h0M4562 1331h0M4796 1475h0M4542 1428h0M4791 1484h0M4635 1525h0M4531 1442h0M4541 1481h0M4784 1500h0M4640 1455h0M4713 1513h0M4534 1500h0M4649 1374h0M4774 1508h0M4513 1378h0M4726 1404h0M4750 1399h0M4517 1528h0M4601 1455h0M4790 1505h0M4649 1469h0M4510 1453h0M4633 1340h0M4638 1325h0M4553 1256h0M4794 1421h0M4527 1433h0M4617 1525h0M4585 1521h0M4518 1487h0M4501 1489h0M4580 1441h0M4582 1317h0M4806 1232h0M4692 1398h0M4699 1529h0M4636 1404h0M4761 1067h0M4810 1526h0M4614 1492h0M4663 1209h0M4638 1398h0M4735 1503h0M4604 1326h0M4506 1388h0M4536 1428h0M4684 1367h0M4564 1499h0M4833 1317h0M4525 1460h0M4614 1400h0M4621 1494h0M4610 1506h0M4727 1368h0M4715 1496h0M4526 1366h0M4583 1512h0M4515 1378h0M4823 1223h0M4664 1528h0M4773 1467h0M4771 1513h0M4521 1119h0M4788 1387h0M4604 1381h0M4602 1394h0M4826 1504h0M4820 1490h0M4745 1326h0M4533 1497h0M4824 1509h0M4577 1404h0M4808 1492h0M4551 1251h0M4523 1481h0M4553 1348h0M4589 1372h0M4575 1489h0M4555 1324h0M4760 1500h0M4599 1457h0M4799 1214h0M4537 1461h0M4794 1303h0M4514 1503h0M4494 1508h0M4597 1304h0M4547 1434h0M4656 1386h0M4657 1450h0M4584 1528h0M4606 1456h0M4826 1472h0M4716 1504h0M4592 1494h0M4803 1282h0M4583 1099h0M4795 1517h0M4822 1473h0M4793 1364h0M4509 1415h0M4739 1377h0M4822 1405h0M4745 1434h0M4821 1507h0M4523 1320h0M4801 1432h0M4827 1222h0M4764 1389h0M4689 1385h0M4815 1363h0M4695 1209h0M4719 1505h0M4554 1507h0M4499 1498h0M4545 1061h0M6267 1490h0M6264 1446h0M6290 1375h0M6271 1399h0M6291 1527h0M6273 1347h0M6266 1537h0M6264 1392h0M6263 1495h0M6263 1502h0M6297 1501h0M6294 1460h0M6286 1213h0M6292 1458h0M6261 1514h0M6298 1539h0M6261 1511h0M6300 1536h0M6265 1438h0M6268 1325h0M6271 1530h0M6270 1475h0M6289 1450h0M6275 1375h0M6277 1443h0M6261 1480h0M6269 1367h0M6293 1265h0M6305 1534h0M6284 1476h0M6296 1350h0M6304 1534h0M6294 1386h0M6288 1279h0M6288 1510h0M6298 1523h0M6290 1160h0M7011 1605h0M7000 1483h0M7007 1584h0M7001 1580h0M6995 1444h0M7006 1550h0M6996 1503h0M7011 1386h0M7009 1572h0M7000 1508h0M6999 1442h0M6994 1503h0M7003 1546h0M7001 1513h0M7011 1541h0M7006 1578h0M6999 1588h0M7001 1444h0M6994 1073h0" stroke="#3f521f" stroke-width="38" stroke-linecap="round" fill="none"/>
<path transform="scale(0.1)" d="M5046 1495h0M4962 1442h0M4984 1520h0M5017 1524h0M5058 1524h0M4884 1520h0M4926 1460h0M4915 1285h0M5025 1500h0M4898 1325h0M5105 1507h0M5059 1501h0M4910 1289h0M4966 1523h0M5102 1497h0M4999 1430h0M5031 1402h0M4976 1522h0M5043 1192h0M5081 1495h0M5039 1507h0M5043 1479h0M5030 1198h0M4947 1506h0M4984 1133h0M4976 1498h0M5000 1356h0M5035 1178h0M5040 1496h0M4949 1260h0M5058 1505h0M4986 1512h0M5030 1361h0M5041 1513h0M5014 1481h0M4884 1516h0M5051 1477h0M5057 1241h0M4912 1400h0M5053 1482h0M4904 1491h0M4955 1495h0M4971 1474h0M4894 1525h0M5079 1342h0M4937 1292h0M5105 1357h0M5052 1379h0M5042 1319h0M4962 1262h0M4919 1427h0M5087 1455h0M4904 1517h0M5061 1384h0M4901 1444h0M5105 1494h0M5056 1425h0M4890 1359h0M4909 1431h0M5037 1516h0M4935 1485h0M4943 1500h0M4915 1366h0M5041 1520h0M5016 1503h0M5002 1436h0M5045 1475h0M5041 1424h0M5034 1441h0M4887 1467h0M5074 1322h0M5076 1429h0M5040 1494h0M5057 1507h0M5011 1448h0M4908 1373h0M5002 1234h0M4981 1511h0M5015 1511h0M4950 1420h0M5101 1491h0M5051 1471h0M5003 1488h0M4910 1508h0M4892 1514h0M4945 1382h0M4890 1470h0M4887 1425h0M5051 1368h0M4989 1208h0M5034 1486h0M5093 1524h0M4958 1363h0M5059 1359h0M5101 1519h0M5080 1478h0M4887 1336h0M5085 1525h0M4920 1335h0M4913 1439h0M4887 1354h0M5027 1451h0M4893 1506h0M4970 1300h0M5099 1506h0M4974 1376h0M4995 1511h0M4970 1512h0M5084 1440h0M5067 1471h0M4997 1461h0M5028 1153h0M5004 1453h0M4952 1443h0M4990 1282h0M4931 1483h0M4887 1409h0M4984 1380h0M5074 1346h0M5097 1323h0M5077 1487h0M5056 1242h0M4927 1479h0M5010 1396h0M4914 1286h0M4968 1514h0M4941 1523h0M5046 1452h0M4933 1438h0M4907 1295h0M5040 1366h0M5093 1482h0M4966 1496h0M5091 1398h0M4883 1353h0M4948 1524h0M4905 1442h0M4975 1441h0M4947 1440h0M4905 1429h0M4949 1522h0M5035 1391h0M5078 1498h0M4970 1516h0M4921 1486h0M5056 1264h0M5101 1517h0M5042 1485h0M4939 1456h0M5051 1456h0M5080 1480h0M4916 1478h0M5072 1228h0M5005 1372h0M5078 1497h0M4912 1432h0M5022 1115h0M6383 1280h0M6379 1202h0M6384 1347h0M6394 1373h0M6381 1365h0M6386 1307h0M6380 1333h0M6386 1337h0M6378 1403h0M6356 1346h0M6388 1414h0M6384 1403h0M6369 1316h0M6369 1384h0M6379 1412h0M6381 1296h0M6394 1266h0M6366 1332h0M6379 1374h0M6373 1345h0M6394 1334h0M6387 1136h0M7058 1464h0M7057 1487h0M7057 1515h0M7059 1429h0M7059 1552h0M7058 1525h0M7058 1490h0M7058 1509h0M7059 1491h0M7058 1552h0M7058 1534h0M7057 1445h0M7059 1541h0M7058 1504h0M7058 1449h0M7059 1559h0M7059 1450h0M7058 1540h0M7059 1424h0M7058 1420h0" stroke="#f50a7c" stroke-width="38" stroke-linecap="round" fill="none"/>
<path transform="scale(0.1)" d="M5244 1625h0M5279 1517h0M5254 1545h0M5160 1602h0M5236 1558h0M5223 1320h0M5186 1344h0M5250 1411h0M5279 1626h0M5268 1496h0M5170 1469h0M5200 1495h0M5164 1552h0M5247 1553h0M5267 1480h0M5274 1627h0M5228 1308h0M5210 1564h0M5186 1544h0M5241 1525h0M5246 1556h0M5220 1541h0M5257 1568h0M5192 1545h0M5239 1486h0M5236 1630h0M5237 1553h0M5203 1571h0M5284 1576h0M5195 1621h0M5179 1615h0M5270 1591h0M5245 1628h0M5257 1603h0M5241 1555h0M5269 1434h0M5172 1422h0M5185 1592h0M5198 1423h0M5203 1623h0M5220 1568h0M5263 1625h0M5241 1564h0M5174 1604h0M5190 1603h0M5230 1617h0M5162 1473h0M5163 1594h0M5184 1477h0M5209 1616h0M5234 1606h0M5190 1614h0M5216 1617h0M5238 1581h0M5278 1461h0M5200 1558h0M5275 1616h0M5223 1624h0M5234 1603h0M5231 1589h0M5210 1480h0M5215 1531h0M5169 1352h0M5246 1319h0M5265 1609h0M5245 1400h0M5225 1414h0M5256 1546h0M5166 1562h0M5211 1571h0M5240 1570h0M5225 1622h0M5258 1583h0M5280 1495h0M5263 1549h0M5170 1518h0M5231 1559h0M5179 1627h0M5270 1589h0M5198 1493h0M5272 1577h0M5239 1513h0M5238 1550h0M5217 1409h0M5218 1373h0M5224 1480h0M5181 1259h0M6444 1718h0M6444 1744h0M6444 1786h0M6444 1647h0M6444 1809h0M6444 1732h0M6444 1802h0M6444 1666h0M6444 1744h0M6444 1806h0M6444 1681h0M6444 1580h0M6444 1798h0M6444 1806h0M6444 1567h0M7123 1562h0M7121 1423h0M7115 1508h0M7120 1554h0M7115 1492h0M7110 1473h0M7107 1557h0M7116 1469h0M7121 1533h0M7115 1551h0M7123 1504h0M7117 1439h0M7107 1537h0M7123 1510h0M7116 1542h0M7111 1445h0M7121 1547h0M7111 1329h0M7118 1564h0M7119 1238h0" stroke="#ff640a" stroke-width="38" stroke-linecap="round" fill="none"/>
<path transform="scale(0.1)" d="M5354 1427h0M5411 1607h0M5364 1460h0M5411 1581h0M5363 1606h0M5452 1391h0M5375 1599h0M5447 1616h0M5410 1616h0M5372 1496h0M5393 1455h0M5411 1622h0M5440 1534h0M5373 1469h0M5377 1287h0M5425 1453h0M5404 1579h0M5355 1591h0M5339 1406h0M5345 1403h0M5422 1607h0M5401 1575h0M5415 1597h0M5345 1623h0M5407 1525h0M5412 1338h0M5342 1462h0M5416 1448h0M5425 1605h0M5381 1584h0M5364 1618h0M5393 1558h0M5455 1597h0M5453 1604h0M5433 1615h0M5438 1502h0M5437 1528h0M5441 1599h0M5391 1601h0M5369 1600h0M5443 1552h0M5401 1517h0M5427 1399h0M5423 1396h0M5448 1615h0M5407 1534h0M5366 1550h0M5360 1444h0M5393 1466h0M5389 1586h0M5358 1521h0M5446 1494h0M5426 1586h0M5355 1494h0M5353 1475h0M5433 1555h0M5362 1347h0M5363 1473h0M5446 1444h0M5413 1540h0M5433 1500h0M5411 1314h0M5377 1528h0M5431 1568h0M5419 1502h0M5358 1359h0M5406 1549h0M5350 1618h0M5444 1534h0M5348 1530h0M5350 1229h0M5402 1594h0M5425 1450h0M5402 1610h0M5383 1456h0M5440 1503h0M5449 1615h0M5332 1575h0M5441 1609h0M5416 1347h0M5370 1567h0M5355 1511h0M5345 1613h0M5365 1351h0M5424 1570h0M5451 1498h0M5420 1621h0M5399 1437h0M5375 1622h0M5376 1593h0M5407 1573h0M5411 1394h0M5351 1560h0M5449 1453h0M5383 1562h0M5401 1616h0M5343 1405h0M5436 1575h0M5352 1403h0M5381 1579h0M5404 1378h0M5349 1365h0M5347 1455h0M5454 1581h0M5386 1593h0M5461 1613h0M5387 1611h0M5366 1609h0M5333 1390h0M5411 1207h0M6509 1561h0M6502 1566h0M6517 1527h0M6511 1417h0M6520 1574h0M6500 1436h0M6523 1348h0M6501 1553h0M6503 1305h0M6514 1588h0M6490 1223h0M6509 1402h0M6515 1362h0M6497 1383h0M6518 1398h0M6514 1586h0M6513 1578h0M6516 1565h0M6520 1557h0M6499 1517h0M6523 1397h0M6514 1529h0M6499 1394h0M6514 1583h0M6516 1370h0M6523 1557h0M6522 1522h0M6510 1488h0M6489 1435h0M6493 1579h0M6504 1565h0M6492 1565h0M6507 1331h0M6490 1207h0M7176 1642h0M7183 1589h0M7175 1665h0M7180 1637h0M7180 1675h0M7186 1655h0M7186 1646h0M7169 1523h0M7171 1611h0M7186 1451h0M7177 1686h0M7186 1653h0M7182 1465h0M7185 1466h0M7185 1582h0M7171 1651h0M7182 1423h0M7169 1546h0M7171 1577h0M7169 1659h0M7174 1253h0M7183 1167h0" stroke="#eb8cc3" stroke-width="38" stroke-linecap="round" fill="none"/>
<path transform="scale(0.1)" d="M5614 1536h0M5597 1440h0M5604 1515h0M5579 1361h0M5591 1287h0M5584 1441h0M5510 1544h0M5521 1503h0M5549 1383h0M5509 1529h0M5620 1486h0M5548 1211h0M5602 1285h0M5592 1460h0M5554 1492h0M5550 1418h0M5601 1407h0M5533 1194h0M5539 1169h0M5614 1484h0M5600 1416h0M5578 1530h0M5603 1320h0M5528 1297h0M5562 1371h0M5557 1520h0M5569 1422h0M5597 1371h0M5554 1466h0M5603 1437h0M5602 1422h0M5510 1525h0M5550 1357h0M5611 1494h0M5575 1391h0M5619 1409h0M5599 1334h0M5587 1442h0M5605 1546h0M5597 1452h0M5566 1496h0M5567 1498h0M5538 1441h0M5592 1391h0M5583 1526h0M5568 1545h0M5576 1507h0M5602 1423h0M5539 1435h0M5528 1544h0M5616 1520h0M5511 1516h0M5610 1497h0M5620 1545h0M5563 1523h0M5602 1473h0M5560 1521h0M5610 1378h0M5559 1514h0M5544 1340h0M5531 1531h0M5581 1539h0M5585 1447h0M5547 1105h0M5620 1410h0M5533 1528h0M5588 1531h0M5539 1416h0M5551 1488h0M5598 1426h0M5618 1539h0M5601 1496h0M5603 1177h0M5552 1536h0M5599 1456h0M5614 1537h0M5549 1533h0M5509 1537h0M5569 1533h0M5553 1403h0M5589 1530h0M5574 1247h0M5603 1404h0M5580 1532h0M5614 1529h0M5594 1407h0M5602 1415h0M5577 1510h0M5601 1506h0M5547 1480h0M5531 1447h0M5570 1497h0M5527 1409h0M5602 1546h0M5607 1540h0M5605 1540h0M5537 1473h0M5555 1494h0M5615 1056h0M6590 1454h0M6599 1547h0M6583 1565h0M6569 1593h0M6573 1519h0M6591 1360h0M6601 1502h0M6594 1470h0M6586 1572h0M6590 1394h0M6585 1552h0M6590 1589h0M6600 1423h0M6570 1555h0M6591 1472h0M6579 1491h0M6593 1410h0M6575 1564h0M6593 1231h0M6569 1473h0M6587 1563h0M6575 1568h0M6569 1555h0M6587 1466h0M6599 1524h0M6584 1472h0M6584 1577h0M6569 1536h0M6579 1513h0M6592 1366h0M6571 1212h0M7239 1233h0M7238 1451h0M7239 1487h0M7232 1423h0M7236 1517h0M7235 1445h0M7239 1489h0M7232 1441h0M7239 1531h0M7237 1538h0M7239 1494h0M7232 1500h0M7234 1490h0M7236 1438h0M7237 1509h0M7238 1534h0M7232 1491h0M7232 1446h0M7233 1247h0M7234 1399h0M7239 1146h0" stroke="#45d2aa" stroke-width="38" stroke-linecap="round" fill="none"/>
<path transform="scale(0.1)" d="M5749 1608h0M5687 1555h0M5713 1524h0M5724 1493h0M5715 1393h0M5678 1634h0M5683 1573h0M5711 1545h0M5717 1488h0M5681 1503h0M5736 1506h0M5726 1448h0M5716 1620h0M5706 1426h0M5716 1392h0M5727 1437h0M5711 1631h0M5713 1478h0M5727 1435h0M5676 1608h0M5729 1580h0M5693 1622h0M5727 1511h0M5710 1383h0M5706 1595h0M5731 1599h0M5674 1624h0M5714 1459h0M5668 1558h0M5688 1579h0M5735 1368h0M5706 1573h0M5703 1557h0M5717 1535h0M5707 1502h0M5725 1500h0M5702 1450h0M5712 1367h0M5706 1604h0M5674 1588h0M5716 1573h0M5705 1351h0M5720 1298h0M5747 1486h0M5699 1586h0M5692 1612h0M5677 1348h0M5740 1582h0M5746 1483h0M5722 1472h0M5675 1616h0M5678 1471h0M5671 1609h0M5702 1365h0M5713 1610h0M5719 1554h0M5701 1223h0M5683 1508h0M5700 1463h0M5721 1297h0M5669 1557h0M5705 1552h0M5719 1582h0M5731 1627h0M5715 1520h0M5708 1410h0M5671 1535h0M5684 1610h0M5694 1485h0M5723 1160h0M6666 1404h0M6664 1575h0M6650 1560h0M6673 1582h0M6652 1565h0M6654 1494h0M6670 1552h0M6654 1562h0M6661 1601h0M6667 1564h0M6655 1452h0M6661 1422h0M6649 1564h0M6665 1596h0M6649 1585h0M6651 1483h0M6660 1531h0M6655 1601h0M6647 1259h0" stroke="#930d2d" stroke-width="38" stroke-linecap="round" fill="none"/>
<path transform="scale(0.1)" d="M5848 1381h0M5868 1567h0M5798 1506h0M5852 1487h0M5856 1307h0M5803 1543h0M5844 1524h0M5866 1516h0M5860 1378h0M5845 1413h0M5804 1508h0M5861 1498h0M5868 1539h0M5850 1527h0M5859 1164h0M5855 1372h0M5835 1519h0M5861 1506h0M5799 1506h0M5835 1462h0M5839 1520h0M5852 1467h0M5843 1455h0M5862 1455h0M5847 1311h0M5823 1396h0M5832 1565h0M5862 1544h0M5859 1449h0M5865 1566h0M5810 1344h0M5846 1535h0M5855 1462h0M5801 1495h0M5826 1517h0M5845 1558h0M5813 1171h0M5800 1477h0M5840 1516h0M5862 1474h0M5834 1535h0M5827 1411h0M5867 1355h0M5866 1431h0M5854 1522h0M5851 1567h0M5845 1508h0M5842 1355h0M5832 1304h0M5831 1108h0M6733 1462h0M6759 1499h0M6749 1438h0M6756 1521h0M6736 1540h0M6751 1432h0M6743 1527h0M6745 1547h0M6739 1522h0M6730 1549h0M6736 1564h0M6731 1569h0M6760 1420h0M6736 1465h0M6735 1374h0M6748 1428h0M6741 1561h0M6746 1300h0M6749 1404h0M6736 1544h0M6746 1469h0M6723 1290h0M6743 1499h0M6731 1547h0M6740 1467h0M6740 1441h0M6726 1578h0M6742 1518h0M6744 1371h0M6748 1484h0M6749 1063h0" stroke="#037656" stroke-width="38" stroke-linecap="round" fill="none"/>
<line x1="255" y1="83.0" x2="725.4" y2="83.0" stroke="#e4e4e4" stroke-width="1.3"/>
<line x1="255" y1="105.5" x2="725" y2="105.5" stroke="#3a3a3a" stroke-width="0.7" stroke-dasharray="1.8 1.6"/>
<path transform="scale(0.1)" d="M3071 858h0M2997 970h0M2900 1011h0M3157 1033h0M3390 943h0M3435 1040h0M3571 994h0M3579 1013h0M3653 1011h0M3684 984h0M3792 923h0M3911 864h0M3956 1038h0M4012 1028h0M4045 1018h0M4063 1036h0M4188 995h0M4572 913h0M4648 899h0M4644 940h0M4660 930h0M4715 899h0M4680 960h0M4690 987h0M4535 1012h0M4572 1036h0M4644 1032h0M4670 1036h0M4740 1026h0M4781 975h0M4820 1001h0M4819 1007h0M4921 1013h0M5273 939h0M5423 842h0M5423 886h0M5428 1032h0M5568 929h0M5592 999h0M5699 1034h0M5812 945h0M5847 958h0M6064 887h0M6157 953h0M6170 955h0M6271 945h0M6271 965h0M6353 955h0M6197 1045h0M6028 1045h0M6827 973h0M6943 961h0M7113 1025h0M7120 1042h0" stroke="#f8a81c" stroke-width="28" stroke-linecap="round" fill="none"/>
<path transform="scale(0.1)" d="M2700 725h0M2735 768h0M3245 326h0M3254 340h0M3245 447h0M3311 809h0M3926 819h0M4422 345h0M4422 655h0M4779 228h0M4539 741h0M4662 634h0M4685 636h0M4658 696h0M4740 667h0M4713 739h0M4781 720h0M5419 620h0M6281 817h0M6572 774h0" stroke="#f5141a" stroke-width="26" stroke-linecap="round" fill="none"/>
<path d="M254.5 12.4V185.3" stroke="#555555" stroke-width="1" fill="none"/>
<path d="M251.5 185.3H254.5M251.5 150.6H254.5M251.5 116.0H254.5M251.5 81.3H254.5M251.5 46.7H254.5M251.5 12.0H254.5" stroke="#555555" stroke-width="1" fill="none"/>
<text x="240.4" y="22.7" text-anchor="middle" font-size="11">10</text>
<text x="240.4" y="57.3" text-anchor="middle" font-size="11">8</text>
<text x="240.4" y="90.5" text-anchor="middle" font-size="11">6</text>
<text x="240.4" y="123.3" text-anchor="middle" font-size="11">4</text>
<text x="240.4" y="157.1" text-anchor="middle" font-size="11">2</text>
<text x="240.4" y="190.6" text-anchor="middle" font-size="11">0</text>
<path d="M254.5 192.3H724.7" stroke="#555555" stroke-width="1" fill="none"/>
<path d="M254.5 192.3v4M296.4 192.3v4M368.4 192.3v4M423.1 192.3v4M466.0 192.3v4M499.3 192.3v4M522.2 192.3v4M539.7 192.3v4M556.4 192.3v4M570.8 192.3v4M583.2 192.3v4M594.9 192.3v4M606.6 192.3v4M617.8 192.3v4M628.4 192.3v4M637.5 192.3v4M644.4 192.3v4M650.6 192.3v4M658.5 192.3v4M666.0 192.3v4M674.3 192.3v4M682.4 192.3v4M688.5 192.3v4M694.2 192.3v4M700.2 192.3v4M705.8 192.3v4M711.5 192.3v4M717.8 192.3v4M723.5 192.3v4" stroke="#555555" stroke-width="1" fill="none"/>
<text x="253.3" y="210.8" text-anchor="middle" font-size="11">chr</text>
<text x="296.8" y="210.8" text-anchor="middle" font-size="11">1</text>
<text x="369.6" y="210.8" text-anchor="middle" font-size="11">2</text>
<text x="421.9" y="210.8" text-anchor="middle" font-size="11">3</text>
<text x="466.8" y="210.8" text-anchor="middle" font-size="11">4</text>
<text x="498.5" y="210.8" text-anchor="middle" font-size="11">5</text>
<text x="585.8" y="210.8" text-anchor="middle" font-size="11">10</text>
<text x="658.7" y="210.8" text-anchor="middle" font-size="11">18</text>
<text x="724.2" y="210.8" text-anchor="middle" font-size="11">28</text>
<text transform="translate(222 97.5) rotate(-90)" text-anchor="middle" font-size="12.2">&#8722;log<tspan font-size="8.5" dy="2.5">10</tspan><tspan dy="-2.5">(</tspan><tspan font-style="italic">p</tspan>)</text>
<text x="217.8" y="19.6" font-size="16" font-weight="bold">B</text>
<rect x="256.5" y="391.6" width="79.8" height="30.3" rx="1.5" fill="#0f96dc"/>
<rect x="337.8" y="390.0" width="61.1" height="31.9" rx="1.5" fill="#fdbf00"/>
<rect x="400.1" y="386.8" width="46.0" height="35.1" rx="1.5" fill="#4a33a0"/>
<rect x="447.1" y="386.8" width="37.9" height="35.1" rx="1.5" fill="#3f521f"/>
<rect x="486.4" y="390.0" width="25.8" height="31.9" rx="1.5" fill="#f50a7c"/>
<rect x="514.1" y="385.2" width="16.2" height="36.7" rx="1.5" fill="#ff640a"/>
<rect x="531.5" y="390.6" width="16.4" height="31.3" rx="1.5" fill="#eb8cc3"/>
<rect x="549.1" y="393.5" width="14.6" height="28.4" rx="1.5" fill="#45d2aa"/>
<rect x="565.0" y="390.3" width="11.7" height="31.6" rx="1.5" fill="#930d2d"/>
<rect x="578.0" y="386.5" width="10.5" height="35.4" rx="1.5" fill="#037656"/>
<rect x="589.8" y="380.5" width="10.1" height="41.4" rx="1.5" fill="#0f96dc"/>
<rect x="601.1" y="383.7" width="11.0" height="38.2" rx="1.5" fill="#fdbf00"/>
<rect x="613.3" y="377.3" width="9.0" height="44.6" rx="1.5" fill="#4a33a0"/>
<rect x="624.4" y="377.3" width="7.9" height="44.6" rx="1.5" fill="#3f521f"/>
<rect x="633.9" y="383.3" width="7.2" height="38.6" rx="1.5" fill="#f50a7c"/>
<rect x="643.2" y="404.2" width="2.4" height="17.7" rx="1.5" fill="#ff640a"/>
<rect x="647.2" y="388.4" width="6.8" height="33.5" rx="1.5" fill="#eb8cc3"/>
<rect x="655.2" y="391.6" width="6.6" height="30.3" rx="1.5" fill="#45d2aa"/>
<rect x="663.0" y="386.7" width="6.0" height="35.2" rx="1.5" fill="#930d2d"/>
<rect x="670.5" y="367.9" width="7.6" height="54.0" rx="1.5" fill="#037656"/>
<rect x="679.9" y="386.5" width="4.9" height="35.4" rx="1.5" fill="#0f96dc"/>
<rect x="686.0" y="390.9" width="5.0" height="31.0" rx="1.5" fill="#fdbf00"/>
<rect x="691.9" y="386.2" width="4.6" height="35.7" rx="1.5" fill="#4a33a0"/>
<rect x="697.7" y="378.3" width="5.1" height="43.6" rx="1.5" fill="#3f521f"/>
<rect x="704.0" y="404.8" width="3.6" height="17.1" rx="1.5" fill="#f50a7c"/>
<rect x="709.0" y="400.7" width="5.0" height="21.2" rx="1.5" fill="#ff640a"/>
<rect x="715.2" y="387.8" width="5.1" height="34.1" rx="1.5" fill="#eb8cc3"/>
<rect x="721.5" y="382.1" width="4.1" height="39.8" rx="1.5" fill="#45d2aa"/>
<path transform="scale(0.1)" d="M3237 3789h0M2814 3516h0M2918 3857h0M2752 3906h0M2731 3699h0M2978 3530h0M2682 3843h0M3130 3828h0M2767 3769h0M3163 3818h0M2729 3789h0M3233 3855h0M2818 3742h0M3220 3797h0M2994 3783h0M2862 3827h0M2990 3674h0M3186 3591h0M2954 3533h0M2636 3902h0M3179 3889h0M3201 3776h0M3218 3883h0M2692 3757h0M2712 3906h0M2852 3893h0M3074 3865h0M3336 3781h0M3125 3626h0M2858 3602h0M2955 3852h0M2686 3905h0M2871 3615h0M2933 3897h0M3299 3544h0M2870 3780h0M2627 3880h0M3126 3847h0M3038 3880h0M3140 3806h0M3080 3849h0M2662 3671h0M2828 3885h0M2677 3903h0M2969 3727h0M3107 3800h0M2671 3900h0M3321 3622h0M3185 3836h0M2693 3829h0M3063 3895h0M2736 3914h0M2981 3879h0M2796 3910h0M3225 3675h0M2860 3842h0M3056 3737h0M3025 3865h0M2878 3912h0M2953 3913h0M2623 3912h0M3181 3858h0M2663 3794h0M3069 3818h0M2690 3863h0M2658 3809h0M2775 3732h0M3127 3910h0M2851 3866h0M2938 3886h0M2922 3655h0M3286 3683h0M2868 3875h0M2843 3659h0M3038 3596h0M2853 3556h0M3042 3769h0M2773 3906h0M2914 3728h0M2815 3764h0M2837 3883h0M3288 3899h0M3089 3839h0M2924 3906h0M3107 3662h0M2822 3655h0M2785 3877h0M3170 3889h0M2918 3692h0M2836 3806h0M2956 3879h0M2675 3813h0M3167 3628h0M2879 3666h0M3281 3779h0M2874 3774h0M2883 3668h0M2891 3785h0M3113 3902h0M2892 3846h0M2899 3896h0M3310 3802h0M3079 3901h0M2889 3907h0M3045 3840h0M3018 3696h0M2880 3837h0M3089 3833h0M3276 3811h0M2885 3902h0M3091 3866h0M2889 3846h0M2583 3725h0M2641 3864h0M3306 3831h0M3028 3830h0M3228 3891h0M3240 3910h0M3108 3781h0M3222 3860h0M2859 3686h0M3254 3870h0M2947 3847h0M2644 3913h0M3299 3903h0M2617 3898h0M3079 3730h0M3010 3901h0M3081 3650h0M2905 3788h0M3054 3895h0M3068 3890h0M3037 3562h0M3247 3599h0M3127 3692h0M3302 3907h0M3103 3780h0M3046 3827h0M3303 3597h0M2684 3898h0M3234 3612h0M3092 3839h0M2749 3904h0M3340 3826h0M2928 3903h0M3098 3847h0M2893 3892h0M2748 3794h0M3054 3858h0M3031 3833h0M3169 3851h0M3142 3895h0M2783 3882h0M3093 3805h0M2744 3913h0M2668 3685h0M2972 3713h0M3044 3828h0M3260 3855h0M2938 3834h0M2601 3740h0M3079 3912h0M3284 3648h0M3136 3682h0M2699 3870h0M3168 3802h0M2604 3913h0M2593 3682h0M3040 3894h0M2852 3846h0M2851 3864h0M3303 3824h0M3052 3774h0M3072 3851h0M2873 3910h0M3238 3832h0M2940 3809h0M3069 3802h0M2851 3744h0M2611 3802h0M2918 3845h0M3286 3775h0M3040 3716h0M3049 3882h0M3240 3824h0M2997 3877h0M3091 3653h0M2847 3876h0M2901 3798h0M3329 3712h0M3164 3655h0M3165 3821h0M2868 3892h0M2833 3912h0M3063 3809h0M2753 3809h0M3044 3907h0M3017 3827h0M2596 3605h0M2691 3813h0M3003 3817h0M2967 3806h0M2749 3856h0M3198 3798h0M3086 3912h0M3030 3901h0M2802 3909h0M3219 3838h0M3066 3847h0M2754 3780h0M2655 3890h0M3034 3789h0M3025 3731h0M2866 3778h0M3279 3882h0M3107 3876h0M2930 3872h0M2962 3784h0M3232 3792h0M3210 3528h0M2956 3899h0M3082 3915h0M2625 3685h0M3060 3868h0M3104 3842h0M2732 3770h0M2925 3738h0M3118 3905h0M3062 3827h0M3286 3718h0M3190 3898h0M2754 3833h0M3079 3725h0M3312 3894h0M3150 3833h0M3082 3864h0M2828 3760h0M3148 3746h0M2841 3790h0M2778 3798h0M3330 3879h0M3108 3851h0M3225 3821h0M3190 3754h0M2877 3793h0M2853 3737h0M2607 3800h0M2865 3860h0M2928 3838h0M3040 3887h0M2665 3615h0M2940 3882h0M2878 3886h0M3108 3854h0M3149 3817h0M3077 3893h0M3090 3880h0M2958 3773h0M3080 3913h0M2929 3897h0M3276 3913h0M3089 3899h0M2884 3906h0M3248 3668h0M2943 3708h0M2772 3809h0M2616 3898h0M2868 3793h0M2885 3805h0M2868 3850h0M3067 3778h0M2847 3887h0M3210 3863h0M3050 3824h0M3156 3864h0M3267 3656h0M3215 3764h0M2758 3867h0M2835 3861h0M3029 3812h0M3014 3856h0M2639 3883h0M2646 3884h0M3074 3876h0M3239 3669h0M2893 3650h0M3183 3835h0M2865 3863h0M3079 3900h0M2875 3750h0M3180 3778h0M2909 3868h0M2882 3723h0M3331 3816h0M2898 3842h0M2716 3801h0M2711 3901h0M2882 3774h0M3209 3738h0M3064 3910h0M2868 3849h0M3085 3850h0M3212 3876h0M3194 3910h0M2736 3777h0M3290 3643h0M2866 3888h0M3164 3737h0M3290 3777h0M3049 3863h0M2940 3849h0M3276 3788h0M2588 3872h0M2981 3684h0M3097 3728h0M2740 3546h0M2859 3903h0M2739 3878h0M3289 3781h0M3274 3732h0M3055 3689h0M2827 3711h0M3203 3912h0M2971 3726h0M2762 3745h0M3255 3852h0M3087 3872h0M3099 3906h0M2820 3822h0M2852 3889h0M3326 3874h0M3035 3909h0M2997 3847h0M3062 3895h0M3336 3834h0M2705 3816h0M2622 3828h0M3337 3789h0M2896 3795h0M2729 3836h0M3067 3868h0M2746 3744h0M3308 3582h0M3093 3861h0M3307 3838h0M2890 3779h0M2628 3626h0M3337 3890h0M3194 3839h0M3090 3841h0M3051 3581h0M3137 3872h0M2611 3784h0M3300 3754h0M3181 3606h0M3014 3768h0M3084 3738h0M3151 3720h0M2718 3836h0M3023 3805h0M2599 3700h0M2887 3896h0M3301 3560h0M2944 3881h0M3069 3659h0M3324 3906h0M2731 3794h0M2874 3902h0M2840 3846h0M3271 3648h0M3146 3902h0M2944 3826h0M3073 3869h0M2770 3894h0M3276 3833h0M2678 3579h0M2822 3886h0M3334 3527h0M3250 3854h0M2872 3824h0M3026 3815h0M2734 3557h0M2945 3827h0M2634 3710h0M2846 3721h0M3090 3593h0M3295 3831h0M2620 3805h0M2847 3695h0M3078 3906h0M2850 3610h0M2880 3891h0M3107 3785h0M3137 3914h0M2731 3809h0M3069 3781h0M3017 3867h0M3170 3868h0M2923 3719h0M2748 3527h0M2647 3912h0M2921 3901h0M3202 3853h0M3178 3717h0M2695 3767h0M3070 3840h0M2865 3855h0M3077 3524h0M3108 3799h0M2710 3740h0M3035 3889h0M2597 3814h0M3203 3860h0M2884 3732h0M2983 3850h0M2874 3554h0M3217 3849h0M2932 3796h0M2859 3897h0M2626 3672h0M3305 3867h0M3202 3897h0M3097 3691h0M3229 3808h0M2717 3863h0M2847 3908h0M2876 3775h0M3028 3755h0M2849 3828h0M2852 3807h0M2884 3748h0M3078 3833h0M2744 3692h0M3062 3865h0M2946 3916h0M3066 3547h0M2847 3553h0M2596 3895h0M3289 3867h0M3000 3890h0M3258 3712h0M2978 3755h0M3301 3841h0M3047 3910h0M2749 3721h0M3106 3856h0M2990 3805h0M3030 3784h0M2634 3655h0M2889 3862h0M2622 3898h0M2660 3875h0M2982 3756h0M3066 3763h0M3273 3884h0M2796 3634h0M3031 3766h0M3028 3716h0M2806 3825h0M3063 3855h0M2636 3915h0M2920 3893h0M3098 3818h0M2636 3681h0M2598 3908h0M2786 3873h0M2879 3858h0M3270 3875h0M3068 3777h0M3240 3897h0M2959 3880h0M3105 3833h0M2782 3664h0M3152 3872h0M3041 3889h0M3229 3906h0M2644 3809h0M2751 3516h0M3233 3904h0M3237 3824h0M2923 3910h0M3035 3777h0M2663 3568h0M2973 3898h0M2927 3514h0M2654 3606h0M2950 3616h0M2597 3802h0M2987 3877h0M2798 3766h0M2745 3854h0M2888 3770h0M3051 3794h0M2876 3736h0M3335 3703h0M3092 3902h0M2726 3900h0M2718 3685h0M3182 3867h0M3069 3640h0M2906 3906h0M2641 3840h0M2878 3726h0M2714 3774h0M3138 3857h0M2684 3611h0M2998 3837h0M3086 3908h0M2652 3753h0M2922 3859h0M3305 3895h0M2822 3850h0M2909 3778h0M3191 3864h0M3026 3833h0M2601 3876h0M2770 3809h0M3328 3870h0M3078 3880h0M3229 3792h0M2833 3792h0M2786 3783h0M2733 3828h0M2855 3909h0M2863 3829h0M2814 3902h0M2869 3831h0M2788 3837h0M3321 3891h0M2840 3813h0M2585 3810h0M3345 3847h0M2861 3830h0M3050 3900h0M2707 3913h0M2620 3724h0M3321 3801h0M2811 3911h0M3321 3897h0M2960 3853h0M3153 3751h0M2713 3914h0M3323 3762h0M3311 3869h0M2688 3870h0M3016 3885h0M2876 3901h0M3076 3822h0M2980 3694h0M2659 3904h0M3081 3710h0M3212 3892h0M3156 3870h0M2911 3756h0M2863 3883h0M2924 3721h0M2917 3828h0M2863 3906h0M2970 3893h0M2828 3903h0M3056 3582h0M3115 3870h0M2598 3752h0M3035 3902h0M3291 3784h0M2930 3805h0M2678 3832h0M2783 3828h0M2881 3784h0M2762 3911h0M2974 3822h0M3066 3860h0M3085 3861h0M2845 3882h0M3015 3847h0M2700 3777h0M2651 3599h0M2796 3879h0M2605 3881h0M3067 3846h0M3237 3830h0M2859 3890h0M2865 3858h0M2674 3819h0M3308 3908h0M2632 3888h0M2859 3872h0M2798 3911h0M2593 3510h0M2865 3902h0M3051 3824h0M2742 3850h0M3318 3853h0M3182 3909h0M3280 3915h0M2909 3580h0M2750 3804h0M3190 3473h0M5921 3761h0M5918 3677h0M5943 3781h0M5950 3772h0M5949 3507h0M5918 3782h0M5946 3636h0M5915 3585h0M5944 3745h0M5946 3804h0M5957 3790h0M5929 3691h0M5941 3585h0M5917 3770h0M5965 3759h0M5972 3792h0M5968 3765h0M5945 3715h0M5937 3773h0M5946 3708h0M5940 3690h0M5976 3804h0M5963 3725h0M5941 3536h0M5938 3753h0M5937 3804h0M5968 3609h0M5920 3732h0M5943 3793h0M5943 3716h0M5928 3777h0M5961 3668h0M5957 3774h0M5920 3699h0M5925 3673h0M5977 3499h0M5925 3799h0M5918 3789h0M5936 3527h0M5958 3799h0M5967 3619h0M5961 3593h0M5935 3683h0M5955 3495h0M6816 3822h0M6829 3581h0M6829 3806h0M6816 3832h0M6817 3862h0M6828 3751h0M6831 3820h0M6825 3809h0M6816 3736h0M6816 3689h0M6824 3730h0M6825 3521h0" stroke="#0f96dc" stroke-width="38" stroke-linecap="round" fill="none"/>
<path transform="scale(0.1)" d="M3755 3794h0M3642 3876h0M3886 3776h0M3535 3873h0M3656 3889h0M3897 3830h0M3964 3590h0M3876 3859h0M3608 3819h0M3654 3896h0M3912 3826h0M3720 3723h0M3408 3802h0M3716 3780h0M3396 3872h0M3763 3861h0M3395 3886h0M3549 3716h0M3541 3597h0M3574 3759h0M3672 3884h0M3650 3791h0M3522 3630h0M3489 3893h0M3677 3745h0M3736 3842h0M3804 3890h0M3611 3875h0M3633 3778h0M3817 3805h0M3856 3872h0M3665 3765h0M3894 3657h0M3509 3818h0M3947 3818h0M3681 3857h0M3910 3848h0M3690 3826h0M3404 3867h0M3533 3578h0M3669 3575h0M3759 3826h0M3666 3784h0M3774 3728h0M3709 3790h0M3732 3848h0M3616 3887h0M3861 3498h0M3780 3745h0M3864 3812h0M3910 3800h0M3633 3808h0M3907 3840h0M3608 3763h0M3723 3831h0M3803 3704h0M3731 3684h0M3505 3732h0M3812 3864h0M3520 3739h0M3486 3865h0M3487 3848h0M3815 3796h0M3704 3777h0M3430 3611h0M3569 3713h0M3714 3855h0M3566 3678h0M3619 3870h0M3573 3691h0M3923 3773h0M3774 3883h0M3917 3655h0M3622 3809h0M3879 3890h0M3704 3867h0M3696 3550h0M3606 3795h0M3942 3575h0M3589 3820h0M3693 3888h0M3512 3886h0M3514 3863h0M3802 3707h0M3500 3832h0M3423 3767h0M3849 3897h0M3465 3887h0M3519 3854h0M3869 3660h0M3819 3853h0M3768 3498h0M3395 3853h0M3532 3556h0M3666 3779h0M3635 3755h0M3758 3778h0M3836 3762h0M3600 3891h0M3746 3767h0M3422 3723h0M3833 3867h0M3967 3807h0M3496 3883h0M3533 3900h0M3593 3894h0M3847 3599h0M3959 3879h0M3432 3822h0M3586 3844h0M3941 3853h0M3396 3756h0M3741 3879h0M3655 3757h0M3532 3839h0M3421 3838h0M3965 3857h0M3821 3791h0M3499 3781h0M3591 3862h0M3651 3614h0M3667 3799h0M3612 3776h0M3516 3718h0M3759 3875h0M3476 3880h0M3727 3780h0M3666 3842h0M3528 3898h0M3942 3807h0M3859 3853h0M3476 3886h0M3587 3869h0M3565 3894h0M3806 3591h0M3519 3845h0M3571 3645h0M3939 3768h0M3411 3681h0M3500 3725h0M3909 3837h0M3850 3742h0M3409 3806h0M3760 3796h0M3654 3635h0M3656 3719h0M3670 3863h0M3934 3889h0M3876 3873h0M3632 3891h0M3804 3859h0M3699 3866h0M3763 3813h0M3506 3770h0M3485 3859h0M3882 3761h0M3600 3800h0M3446 3870h0M3593 3879h0M3576 3859h0M3817 3700h0M3500 3868h0M3817 3896h0M3922 3895h0M3815 3878h0M3478 3841h0M3739 3742h0M3928 3820h0M3403 3829h0M3656 3870h0M3935 3674h0M3946 3836h0M3416 3878h0M3818 3761h0M3950 3840h0M3554 3785h0M3431 3794h0M3692 3809h0M3811 3683h0M3575 3800h0M3774 3842h0M3538 3843h0M3622 3874h0M3921 3706h0M3486 3835h0M3456 3852h0M3486 3780h0M3960 3886h0M3515 3857h0M3716 3713h0M3533 3741h0M3691 3874h0M3421 3847h0M3626 3806h0M3442 3799h0M3451 3764h0M3580 3840h0M3624 3789h0M3643 3722h0M3772 3861h0M3535 3776h0M3757 3799h0M3587 3851h0M3744 3747h0M3523 3741h0M3725 3885h0M3882 3896h0M3395 3814h0M3781 3552h0M3646 3785h0M3493 3840h0M3667 3807h0M3858 3845h0M3890 3853h0M3673 3785h0M3869 3735h0M3460 3731h0M3840 3894h0M3869 3847h0M3675 3780h0M3599 3827h0M3410 3785h0M3558 3669h0M3686 3853h0M3938 3864h0M3542 3829h0M3714 3839h0M3558 3831h0M3444 3565h0M3873 3883h0M3763 3651h0M3559 3877h0M3642 3861h0M3774 3863h0M3883 3642h0M3618 3845h0M3789 3843h0M3881 3733h0M3618 3809h0M3821 3688h0M3708 3747h0M3604 3585h0M3886 3595h0M3656 3874h0M3949 3804h0M3880 3862h0M3486 3877h0M3528 3888h0M3890 3848h0M3616 3881h0M3454 3571h0M3767 3874h0M3439 3707h0M3793 3859h0M3458 3849h0M3702 3545h0M3712 3891h0M3708 3873h0M3517 3635h0M3807 3757h0M3722 3714h0M3734 3835h0M3701 3891h0M3811 3893h0M3525 3883h0M3485 3862h0M3872 3804h0M3904 3802h0M3512 3790h0M3885 3527h0M3506 3839h0M3429 3860h0M3592 3877h0M3793 3872h0M3615 3650h0M3481 3893h0M3763 3703h0M3401 3702h0M3930 3880h0M3914 3856h0M3741 3899h0M3720 3878h0M3535 3717h0M3627 3892h0M3970 3833h0M3682 3877h0M3609 3798h0M3612 3848h0M3611 3864h0M3517 3854h0M3483 3897h0M3575 3854h0M3665 3842h0M3622 3898h0M3724 3868h0M3543 3865h0M3761 3872h0M3742 3644h0M3958 3827h0M3500 3500h0M3815 3898h0M3908 3802h0M3502 3712h0M3817 3802h0M3525 3759h0M3440 3850h0M3657 3818h0M3441 3706h0M3445 3751h0M3502 3808h0M3614 3769h0M3641 3879h0M3488 3808h0M3766 3889h0M3736 3899h0M3444 3895h0M3679 3478h0M3513 3860h0M3697 3789h0M3820 3821h0M3651 3709h0M3816 3684h0M3955 3790h0M3426 3876h0M3864 3641h0M3406 3893h0M3715 3732h0M3409 3885h0M3773 3717h0M3753 3867h0M3763 3870h0M3562 3898h0M3493 3716h0M3958 3632h0M3731 3534h0M3663 3683h0M3817 3843h0M3536 3848h0M3950 3563h0M3929 3836h0M3925 3493h0M3500 3815h0M3919 3649h0M3557 3710h0M3960 3840h0M3524 3692h0M3906 3787h0M3927 3876h0M3920 3550h0M3648 3792h0M3475 3839h0M3952 3887h0M3912 3805h0M3672 3858h0M3699 3869h0M3626 3837h0M3613 3810h0M3968 3603h0M3538 3777h0M3467 3635h0M3772 3747h0M3506 3822h0M3895 3748h0M3962 3736h0M3714 3896h0M3442 3899h0M3452 3778h0M3522 3883h0M3520 3832h0M3561 3681h0M3755 3687h0M3484 3678h0M3681 3853h0M3806 3703h0M3479 3863h0M3627 3883h0M3705 3884h0M3924 3745h0M3657 3752h0M3475 3569h0M3656 3821h0M3410 3806h0M3459 3740h0M3636 3674h0M3713 3733h0M3595 3722h0M3708 3780h0M3824 3774h0M3526 3652h0M3572 3834h0M3710 3790h0M3521 3868h0M3639 3862h0M3646 3775h0M3750 3738h0M3650 3683h0M3487 3863h0M3770 3826h0M3618 3896h0M3555 3766h0M3493 3900h0M3790 3679h0M3631 3766h0M3750 3771h0M3801 3892h0M3395 3737h0M3540 3815h0M3871 3819h0M3516 3882h0M3534 3579h0M3599 3877h0M3395 3771h0M3689 3861h0M3508 3785h0M3965 3797h0M3956 3610h0M3689 3805h0M3731 3874h0M3557 3890h0M3886 3578h0M3719 3846h0M3929 3856h0M3888 3640h0M3660 3818h0M3637 3675h0M3702 3772h0M3828 3897h0M3758 3604h0M3950 3864h0M3942 3869h0M3959 3862h0M3734 3817h0M3700 3870h0M3659 3679h0M3531 3861h0M3681 3857h0M3694 3670h0M3752 3684h0M3688 3898h0M3555 3848h0M3527 3728h0M3704 3899h0M3441 3568h0M3594 3847h0M3732 3770h0M3515 3770h0M3456 3768h0M3765 3889h0M3543 3574h0M3632 3819h0M3901 3756h0M3825 3854h0M3617 3822h0M3453 3876h0M3602 3830h0M3404 3800h0M3406 3862h0M3564 3820h0M3395 3864h0M3840 3787h0M3781 3861h0M3930 3655h0M3451 3625h0M3467 3799h0M3524 3884h0M3827 3834h0M3774 3834h0M3682 3773h0M3778 3784h0M3559 3725h0M3540 3777h0M3816 3788h0M3629 3668h0M3412 3817h0M3816 3868h0M3626 3895h0M3929 3748h0M3754 3597h0M3680 3840h0M3835 3831h0M3768 3788h0M3459 3828h0M3942 3899h0M3760 3887h0M3494 3856h0M3421 3897h0M3621 3817h0M3939 3870h0M3507 3815h0M3461 3862h0M3721 3557h0M3395 3892h0M3704 3473h0M6069 3759h0M6046 3800h0M6052 3492h0M6082 3798h0M6033 3774h0M6095 3698h0M6028 3729h0M6028 3684h0M6068 3783h0M6096 3777h0M6083 3606h0M6084 3815h0M6035 3731h0M6031 3729h0M6034 3759h0M6088 3736h0M6058 3776h0M6028 3780h0M6077 3663h0M6047 3826h0M6103 3538h0M6040 3721h0M6062 3725h0M6067 3812h0M6046 3679h0M6103 3803h0M6083 3576h0M6051 3555h0M6063 3815h0M6079 3635h0M6096 3710h0M6071 3773h0M6081 3744h0M6038 3796h0M6065 3745h0M6028 3691h0M6051 3722h0M6037 3763h0M6048 3802h0M6099 3809h0M6103 3787h0M6091 3796h0M6037 3659h0M6047 3831h0M6048 3748h0M6056 3793h0M6046 3750h0M6057 3757h0M6034 3763h0M6056 3670h0M6078 3675h0M6098 3779h0M6028 3623h0M6080 3514h0M6028 3575h0M6075 3759h0M6099 3756h0M6070 3719h0M6040 3800h0M6028 3826h0M6028 3835h0M6096 3636h0M6029 3620h0M6034 3632h0M6039 3808h0M6037 3722h0M6061 3830h0M6055 3489h0M6877 3713h0M6893 3849h0M6885 3842h0M6882 3801h0M6877 3846h0M6888 3510h0M6885 3799h0M6878 3865h0M6886 3885h0M6883 3756h0M6883 3836h0M6892 3741h0M6881 3853h0M6879 3855h0M6877 3886h0M6892 3905h0M6891 3505h0" stroke="#fdbf00" stroke-width="38" stroke-linecap="round" fill="none"/>
<path transform="scale(0.1)" d="M4133 3808h0M4162 3824h0M4214 3633h0M4111 3759h0M4169 3681h0M4186 3756h0M4166 3716h0M4171 3739h0M4381 3853h0M4235 3794h0M4247 3604h0M4415 3807h0M4152 3669h0M4338 3821h0M4283 3766h0M4365 3861h0M4138 3838h0M4202 3753h0M4035 3770h0M4118 3689h0M4304 3754h0M4094 3868h0M4273 3819h0M4444 3749h0M4428 3863h0M4363 3799h0M4133 3670h0M4197 3843h0M4202 3776h0M4275 3550h0M4164 3798h0M4319 3811h0M4344 3788h0M4079 3792h0M4130 3683h0M4407 3863h0M4266 3810h0M4393 3806h0M4326 3842h0M4071 3851h0M4293 3860h0M4107 3804h0M4040 3749h0M4404 3825h0M4034 3855h0M4031 3796h0M4176 3851h0M4346 3863h0M4343 3722h0M4339 3843h0M4098 3596h0M4119 3809h0M4307 3631h0M4182 3768h0M4154 3832h0M4086 3595h0M4223 3773h0M4109 3860h0M4386 3820h0M4360 3583h0M4334 3792h0M4330 3523h0M4046 3851h0M4357 3848h0M4077 3828h0M4414 3741h0M4147 3696h0M4074 3811h0M4353 3839h0M4357 3819h0M4386 3817h0M4065 3668h0M4281 3866h0M4346 3689h0M4241 3804h0M4155 3658h0M4397 3848h0M4074 3843h0M4128 3589h0M4226 3868h0M4122 3737h0M4193 3597h0M4431 3807h0M4427 3612h0M4285 3835h0M4256 3846h0M4409 3860h0M4401 3742h0M4228 3861h0M4362 3777h0M4361 3727h0M4261 3854h0M4292 3554h0M4045 3755h0M4209 3833h0M4308 3839h0M4343 3696h0M4116 3783h0M4059 3840h0M4321 3864h0M4229 3868h0M4375 3702h0M4332 3819h0M4370 3552h0M4216 3857h0M4411 3824h0M4233 3868h0M4218 3777h0M4211 3832h0M4353 3740h0M4124 3854h0M4353 3690h0M4407 3761h0M4307 3764h0M4123 3855h0M4210 3862h0M4280 3575h0M4332 3694h0M4222 3774h0M4211 3799h0M4372 3846h0M4046 3849h0M4391 3694h0M4414 3703h0M4349 3661h0M4265 3749h0M4165 3834h0M4074 3837h0M4145 3789h0M4342 3685h0M4108 3831h0M4356 3736h0M4134 3828h0M4299 3852h0M4309 3690h0M4294 3752h0M4334 3813h0M4166 3725h0M4189 3497h0M4134 3828h0M4128 3865h0M4349 3845h0M4280 3830h0M4092 3804h0M4199 3838h0M4237 3832h0M4024 3616h0M4339 3759h0M4297 3696h0M4195 3768h0M4432 3816h0M4050 3789h0M4160 3720h0M4021 3543h0M4423 3646h0M4064 3690h0M4097 3728h0M4025 3861h0M4278 3857h0M4196 3826h0M4084 3845h0M4382 3867h0M4227 3723h0M4119 3681h0M4267 3769h0M4213 3862h0M4327 3853h0M4026 3805h0M4107 3787h0M4133 3851h0M4189 3779h0M4110 3828h0M4139 3853h0M4259 3816h0M4129 3782h0M4170 3862h0M4220 3610h0M4252 3850h0M4160 3666h0M4126 3694h0M4261 3847h0M4442 3808h0M4182 3836h0M4146 3786h0M4349 3778h0M4125 3768h0M4383 3794h0M4444 3741h0M4261 3735h0M4103 3797h0M4294 3797h0M4357 3815h0M4076 3760h0M4401 3864h0M4387 3822h0M4428 3511h0M4150 3792h0M4217 3788h0M4347 3855h0M4073 3830h0M4241 3810h0M4128 3841h0M4228 3842h0M4356 3774h0M4418 3808h0M4354 3844h0M4164 3845h0M4364 3823h0M4101 3790h0M4382 3801h0M4334 3803h0M4369 3833h0M4219 3585h0M4073 3824h0M4053 3592h0M4080 3797h0M4222 3846h0M4283 3862h0M4364 3664h0M4106 3854h0M4349 3799h0M4081 3722h0M4142 3867h0M4020 3611h0M4367 3660h0M4392 3805h0M4404 3828h0M4060 3837h0M4254 3861h0M4136 3856h0M4207 3767h0M4329 3675h0M4283 3864h0M4237 3772h0M4387 3814h0M4161 3692h0M4360 3656h0M4170 3776h0M4315 3752h0M4150 3662h0M4036 3783h0M4418 3774h0M4347 3709h0M4366 3782h0M4067 3807h0M4313 3793h0M4413 3841h0M4434 3849h0M4303 3783h0M4067 3843h0M4252 3817h0M4121 3852h0M4420 3815h0M4155 3581h0M4103 3740h0M4408 3779h0M4219 3725h0M4056 3766h0M4120 3560h0M4284 3567h0M4259 3683h0M4226 3638h0M4171 3843h0M4132 3846h0M4124 3565h0M4339 3783h0M4378 3552h0M4373 3571h0M4330 3781h0M4169 3709h0M4137 3607h0M4253 3747h0M4112 3816h0M4191 3759h0M4332 3828h0M4277 3601h0M4166 3798h0M4105 3824h0M4364 3867h0M4379 3835h0M4361 3838h0M4403 3679h0M4158 3698h0M4304 3834h0M4333 3633h0M4147 3576h0M4430 3851h0M4116 3834h0M4128 3801h0M4148 3634h0M4350 3850h0M4088 3663h0M4425 3700h0M4348 3734h0M4133 3799h0M4383 3828h0M4118 3782h0M4390 3680h0M4420 3691h0M4375 3830h0M4090 3655h0M4337 3783h0M4404 3846h0M4344 3859h0M4234 3782h0M4278 3516h0M4327 3710h0M4246 3867h0M4144 3818h0M4150 3827h0M4444 3822h0M4423 3791h0M4401 3761h0M4210 3627h0M4402 3797h0M4172 3739h0M4384 3857h0M4178 3815h0M4160 3811h0M4444 3711h0M4136 3849h0M4139 3794h0M4367 3863h0M4135 3854h0M4395 3851h0M4369 3725h0M4119 3624h0M4304 3768h0M4068 3721h0M4223 3857h0M4406 3733h0M4214 3638h0M4361 3838h0M4163 3699h0M4363 3685h0M4343 3750h0M4100 3738h0M4022 3819h0M4138 3732h0M4278 3788h0M4263 3814h0M4306 3824h0M4444 3624h0M4018 3657h0M4137 3732h0M4401 3762h0M4110 3725h0M4322 3495h0M6206 3617h0M6184 3723h0M6176 3597h0M6204 3743h0M6164 3599h0M6173 3735h0M6169 3516h0M6181 3585h0M6177 3766h0M6182 3531h0M6153 3591h0M6185 3693h0M6163 3503h0M6197 3640h0M6191 3675h0M6155 3759h0M6175 3770h0M6150 3755h0M6159 3604h0M6196 3516h0M6155 3743h0M6201 3747h0M6204 3666h0M6170 3723h0M6181 3758h0M6164 3634h0M6178 3707h0M6166 3568h0M6157 3658h0M6189 3763h0M6150 3522h0M6180 3667h0M6173 3728h0M6170 3722h0M6159 3590h0M6163 3698h0M6179 3738h0M6192 3728h0M6150 3675h0M6196 3742h0M6185 3732h0M6194 3721h0M6185 3506h0M6182 3491h0M6159 3663h0M6164 3584h0M6188 3735h0M6194 3489h0M6941 3853h0M6939 3801h0M6936 3768h0M6948 3840h0M6948 3857h0M6936 3766h0M6947 3729h0M6944 3837h0M6938 3690h0M6943 3836h0M6948 3823h0M6936 3726h0M6942 3792h0M6940 3768h0M6944 3751h0M6936 3822h0M6948 3786h0M6936 3799h0M6945 3780h0M6936 3862h0M6936 3848h0M6938 3786h0M6948 3744h0M6938 3679h0" stroke="#4a33a0" stroke-width="38" stroke-linecap="round" fill="none"/>
<path transform="scale(0.1)" d="M4787 3803h0M4562 3636h0M4700 3835h0M4755 3841h0M4572 3856h0M4656 3682h0M4491 3853h0M4513 3819h0M4790 3785h0M4701 3863h0M4726 3805h0M4764 3789h0M4507 3651h0M4817 3849h0M4715 3856h0M4684 3614h0M4612 3841h0M4657 3821h0M4573 3816h0M4585 3860h0M4707 3783h0M4737 3738h0M4742 3766h0M4669 3746h0M4560 3648h0M4697 3845h0M4491 3800h0M4567 3845h0M4555 3611h0M4650 3761h0M4773 3833h0M4712 3668h0M4548 3748h0M4660 3779h0M4707 3777h0M4725 3717h0M4499 3816h0M4828 3861h0M4821 3842h0M4679 3744h0M4729 3855h0M4504 3682h0M4728 3779h0M4622 3752h0M4565 3513h0M4760 3844h0M4540 3706h0M4775 3865h0M4601 3756h0M4527 3865h0M4736 3663h0M4540 3808h0M4537 3858h0M4687 3820h0M4788 3647h0M4786 3813h0M4783 3846h0M4551 3771h0M4643 3860h0M4759 3741h0M4636 3749h0M4503 3750h0M4625 3708h0M4549 3593h0M4615 3496h0M4561 3622h0M4644 3696h0M4714 3778h0M4757 3831h0M4526 3853h0M4773 3777h0M4803 3866h0M4677 3673h0M4736 3803h0M4621 3851h0M4699 3826h0M4639 3828h0M4590 3601h0M4700 3774h0M4496 3728h0M4641 3602h0M4636 3823h0M4543 3867h0M4494 3778h0M4739 3649h0M4605 3756h0M4557 3626h0M4735 3856h0M4780 3843h0M4708 3622h0M4751 3818h0M4719 3861h0M4490 3733h0M4660 3553h0M4640 3837h0M4783 3823h0M4691 3700h0M4771 3730h0M4607 3838h0M4666 3745h0M4796 3577h0M4749 3802h0M4709 3718h0M4766 3865h0M4815 3779h0M4752 3737h0M4704 3826h0M4790 3718h0M4651 3834h0M4600 3833h0M4577 3589h0M4601 3858h0M4661 3818h0M4818 3802h0M4642 3867h0M4630 3854h0M4704 3852h0M4788 3861h0M4764 3512h0M4809 3661h0M4527 3607h0M4726 3850h0M4514 3837h0M4675 3733h0M4542 3704h0M4757 3748h0M4524 3816h0M4632 3710h0M4817 3722h0M4773 3845h0M4604 3784h0M4669 3720h0M4698 3797h0M4638 3745h0M4801 3807h0M4497 3808h0M4654 3832h0M4629 3867h0M4727 3703h0M4727 3615h0M4527 3737h0M4747 3576h0M4790 3828h0M4770 3744h0M4652 3740h0M4529 3816h0M4815 3545h0M4810 3863h0M4600 3852h0M4685 3835h0M4624 3751h0M4660 3859h0M4585 3689h0M4782 3846h0M4793 3643h0M4736 3761h0M4594 3804h0M4649 3809h0M4779 3824h0M4672 3844h0M4585 3843h0M4807 3763h0M4672 3809h0M4706 3717h0M4545 3718h0M4570 3730h0M4819 3736h0M4693 3724h0M4628 3817h0M4536 3866h0M4830 3680h0M4738 3832h0M4744 3842h0M4777 3765h0M4537 3498h0M4642 3804h0M4769 3854h0M4813 3843h0M4760 3744h0M4644 3745h0M4634 3804h0M4796 3748h0M4764 3829h0M4743 3855h0M4667 3754h0M4762 3771h0M4740 3507h0M4818 3822h0M4767 3764h0M4513 3709h0M4760 3763h0M4707 3741h0M4598 3854h0M4545 3850h0M4759 3753h0M4727 3821h0M4715 3608h0M4714 3792h0M4714 3774h0M4636 3735h0M4737 3663h0M4541 3770h0M4492 3741h0M4587 3829h0M4718 3607h0M4604 3644h0M4602 3760h0M4730 3823h0M4753 3833h0M4505 3801h0M4783 3755h0M4735 3659h0M4608 3816h0M4688 3594h0M4612 3728h0M4706 3778h0M4728 3799h0M4620 3759h0M4523 3818h0M4536 3827h0M4557 3520h0M4756 3867h0M4679 3790h0M4819 3809h0M4540 3849h0M4720 3791h0M4560 3658h0M4777 3849h0M4665 3502h0M4762 3755h0M4774 3561h0M4537 3730h0M4541 3757h0M4707 3846h0M4644 3684h0M4693 3798h0M4549 3645h0M4597 3804h0M4718 3736h0M4645 3822h0M4637 3739h0M4531 3839h0M4526 3834h0M4506 3785h0M4779 3851h0M4555 3850h0M4762 3846h0M4690 3832h0M4783 3774h0M4578 3791h0M4754 3739h0M4679 3830h0M4536 3857h0M4573 3694h0M4668 3706h0M4762 3822h0M4648 3840h0M4704 3849h0M4526 3858h0M4724 3741h0M4712 3862h0M4779 3489h0M6284 3748h0M6282 3771h0M6272 3738h0M6282 3542h0M6281 3673h0M6269 3669h0M6274 3741h0M6266 3633h0M6273 3688h0M6279 3702h0M6267 3756h0M6279 3674h0M6302 3711h0M6286 3709h0M6261 3726h0M6305 3717h0M6295 3753h0M6297 3545h0M6265 3711h0M6282 3617h0M6285 3617h0M6267 3625h0M6272 3473h0M7003 3739h0M7011 3722h0M6999 3702h0M7010 3668h0M7002 3703h0M7010 3715h0M7001 3777h0M7003 3663h0" stroke="#3f521f" stroke-width="38" stroke-linecap="round" fill="none"/>
<path transform="scale(0.1)" d="M5010 3787h0M4892 3630h0M5075 3857h0M5046 3822h0M5044 3839h0M4942 3646h0M5046 3896h0M5030 3888h0M4906 3795h0M4985 3831h0M5037 3891h0M4933 3851h0M4968 3818h0M5046 3648h0M4936 3809h0M4916 3752h0M4961 3826h0M4993 3800h0M4889 3697h0M4899 3871h0M5008 3788h0M5042 3788h0M5012 3804h0M5081 3825h0M4917 3649h0M4934 3757h0M4951 3534h0M5009 3883h0M4916 3569h0M5002 3796h0M5030 3696h0M5026 3863h0M5006 3840h0M5019 3889h0M5000 3698h0M4948 3861h0M5034 3899h0M4926 3826h0M5018 3858h0M5026 3802h0M4969 3587h0M4978 3656h0M4910 3869h0M4921 3807h0M4902 3559h0M5060 3590h0M5008 3678h0M4960 3878h0M5051 3822h0M5039 3715h0M5060 3707h0M4939 3838h0M5054 3888h0M5011 3707h0M4927 3835h0M5029 3788h0M4996 3581h0M5100 3878h0M4899 3879h0M4992 3816h0M4897 3817h0M5025 3787h0M5036 3864h0M4962 3804h0M5028 3746h0M5085 3687h0M5095 3713h0M5013 3866h0M5076 3648h0M4952 3808h0M5000 3675h0M5093 3829h0M5031 3739h0M5053 3791h0M5034 3818h0M5022 3890h0M5045 3533h0M4886 3882h0M5014 3618h0M4891 3886h0M5061 3563h0M4947 3899h0M4963 3891h0M4904 3777h0M4907 3896h0M5003 3739h0M4956 3768h0M5086 3771h0M5025 3852h0M5041 3726h0M5026 3868h0M5004 3689h0M5055 3714h0M5036 3852h0M5034 3899h0M5035 3810h0M4974 3858h0M5035 3659h0M4915 3700h0M5054 3882h0M5016 3877h0M5031 3734h0M5048 3887h0M5064 3793h0M4923 3895h0M4898 3769h0M5011 3793h0M5004 3724h0M4954 3731h0M5041 3822h0M5040 3829h0M5020 3787h0M4929 3701h0M5036 3843h0M4977 3892h0M5047 3657h0M5013 3869h0M4893 3813h0M5091 3689h0M5075 3838h0M5032 3510h0M5014 3894h0M5051 3851h0M5082 3852h0M5099 3835h0M4884 3805h0M5036 3886h0M5048 3843h0M4937 3764h0M4910 3884h0M5060 3852h0M5098 3553h0M5100 3668h0M5037 3880h0M5004 3678h0M4951 3839h0M5066 3881h0M4896 3760h0M4982 3706h0M4906 3886h0M4951 3871h0M4899 3737h0M5046 3883h0M5001 3646h0M5045 3561h0M5029 3897h0M4948 3787h0M5065 3780h0M5020 3715h0M4883 3693h0M5100 3892h0M4999 3737h0M4985 3611h0M4920 3648h0M5049 3745h0M5025 3806h0M4964 3798h0M4977 3725h0M4954 3604h0M5074 3670h0M4986 3751h0M5038 3794h0M5094 3847h0M5053 3867h0M5013 3725h0M5054 3882h0M5048 3866h0M5023 3851h0M4951 3841h0M5105 3833h0M4968 3872h0M5053 3831h0M4981 3772h0M5024 3807h0M4975 3828h0M5076 3769h0M4974 3898h0M4983 3890h0M4968 3552h0M5059 3805h0M5060 3833h0M5027 3495h0M6371 3546h0M6378 3805h0M6358 3625h0M6362 3832h0M6370 3800h0M6365 3767h0M6373 3541h0M6390 3660h0M6394 3715h0M6366 3798h0M6358 3787h0M6356 3644h0M6387 3682h0M6378 3821h0M6380 3681h0M6378 3811h0M6391 3694h0M6384 3796h0M6365 3752h0M6393 3752h0M6376 3612h0M6382 3826h0M6369 3769h0M6372 3726h0M6366 3489h0M7057 4038h0M7058 4023h0M7058 3996h0M7059 4011h0M7057 3794h0M7059 4004h0M7059 4013h0M7057 4029h0M7057 3991h0M7057 3922h0M7059 4029h0M7059 3779h0M7059 4018h0M7059 3826h0M7057 3958h0M7059 3657h0M7057 3986h0M7057 3702h0M7059 3982h0M7057 3958h0M7058 4025h0M7059 3896h0M7059 3858h0M7059 3777h0M7058 3600h0" stroke="#f50a7c" stroke-width="38" stroke-linecap="round" fill="none"/>
<path transform="scale(0.1)" d="M5241 3597h0M5192 3778h0M5170 3848h0M5193 3787h0M5261 3732h0M5254 3757h0M5166 3841h0M5164 3816h0M5221 3794h0M5250 3808h0M5213 3787h0M5223 3800h0M5164 3521h0M5265 3787h0M5272 3844h0M5189 3834h0M5230 3582h0M5232 3782h0M5238 3764h0M5171 3768h0M5195 3848h0M5242 3777h0M5233 3662h0M5284 3848h0M5232 3845h0M5216 3828h0M5252 3829h0M5200 3694h0M5236 3804h0M5285 3670h0M5164 3801h0M5227 3770h0M5194 3775h0M5172 3674h0M5166 3720h0M5253 3842h0M5208 3707h0M5174 3808h0M5180 3849h0M5242 3619h0M5240 3760h0M5159 3792h0M5184 3847h0M5231 3818h0M5208 3777h0M5183 3840h0M5217 3765h0M5249 3665h0M5176 3780h0M5219 3735h0M5252 3812h0M5228 3835h0M5201 3780h0M5283 3819h0M5172 3690h0M5236 3744h0M5241 3840h0M5282 3844h0M5264 3845h0M5179 3775h0M5233 3839h0M5215 3635h0M5226 3749h0M5235 3533h0M5195 3808h0M5244 3820h0M5263 3798h0M5176 3799h0M5218 3807h0M5190 3761h0M5179 3840h0M5164 3814h0M5237 3673h0M5214 3743h0M5214 3781h0M5200 3516h0M5247 3725h0M5186 3818h0M5269 3767h0M5215 3806h0M5209 3735h0M5182 3832h0M5190 3666h0M5238 3717h0M5168 3644h0M5179 3682h0M5183 3834h0M5230 3832h0M5172 3830h0M5241 3749h0M5227 3784h0M5268 3753h0M5237 3836h0M5192 3811h0M5172 3814h0M5253 3732h0M5229 3744h0M5243 3486h0M6444 4000h0M6444 4025h0M6444 4034h0M6444 4004h0M6444 3952h0M6444 3964h0M6444 4029h0M6444 3990h0M6444 4025h0M6444 3974h0M6444 3900h0M6444 3920h0M6444 4009h0M6444 3898h0M6444 3995h0M6444 3976h0M6444 3928h0M6444 3897h0M6444 3629h0M6444 3767h0M6444 3886h0M6444 3955h0M6444 4025h0M6444 3889h0M6444 4035h0M6444 4016h0M6444 3894h0M6444 3608h0M7111 4000h0M7120 3974h0M7123 3849h0M7107 3990h0M7110 3975h0M7117 3748h0M7122 3839h0M7113 3791h0M7123 3830h0M7115 3921h0M7114 3903h0M7115 3980h0M7123 3960h0M7123 3899h0M7121 3989h0M7118 3971h0M7107 3864h0M7122 3823h0M7123 3940h0M7114 3964h0M7121 3860h0M7113 3726h0" stroke="#ff640a" stroke-width="38" stroke-linecap="round" fill="none"/>
<path transform="scale(0.1)" d="M5444 3843h0M5453 3889h0M5424 3682h0M5448 3884h0M5377 3588h0M5452 3868h0M5363 3668h0M5418 3892h0M5451 3880h0M5384 3865h0M5434 3866h0M5397 3815h0M5391 3850h0M5387 3778h0M5376 3849h0M5399 3897h0M5357 3863h0M5403 3821h0M5439 3789h0M5347 3848h0M5406 3857h0M5418 3614h0M5411 3752h0M5457 3798h0M5418 3808h0M5394 3835h0M5377 3756h0M5450 3709h0M5372 3899h0M5449 3832h0M5397 3884h0M5460 3782h0M5446 3906h0M5448 3782h0M5450 3783h0M5373 3854h0M5414 3789h0M5401 3783h0M5347 3897h0M5381 3752h0M5396 3864h0M5446 3673h0M5377 3894h0M5421 3833h0M5402 3791h0M5366 3837h0M5407 3846h0M5434 3888h0M5332 3731h0M5368 3796h0M5392 3749h0M5433 3648h0M5439 3608h0M5422 3850h0M5333 3903h0M5369 3872h0M5332 3676h0M5381 3872h0M5426 3498h0M5446 3794h0M5333 3822h0M5445 3874h0M5417 3808h0M5429 3867h0M5420 3499h0M5353 3838h0M5458 3601h0M5372 3731h0M5407 3879h0M5376 3745h0M5360 3862h0M5462 3889h0M5462 3832h0M5395 3860h0M5388 3866h0M5454 3857h0M5414 3877h0M5374 3831h0M5337 3865h0M5450 3837h0M5392 3885h0M5353 3769h0M5386 3854h0M5399 3658h0M5375 3863h0M5413 3895h0M5426 3877h0M5404 3819h0M5451 3720h0M5455 3822h0M5354 3868h0M5413 3853h0M5379 3750h0M5374 3803h0M5431 3871h0M5385 3665h0M5403 3877h0M5375 3906h0M5342 3731h0M5421 3820h0M5402 3826h0M5337 3838h0M5387 3870h0M5416 3774h0M5429 3825h0M5354 3892h0M5334 3901h0M5400 3881h0M5407 3844h0M5380 3657h0M5458 3875h0M5346 3768h0M5390 3859h0M5411 3831h0M5368 3759h0M5448 3850h0M5368 3904h0M5380 3817h0M5399 3860h0M5429 3854h0M5387 3489h0M6508 3846h0M6503 3830h0M6502 3870h0M6492 3762h0M6498 3875h0M6523 3802h0M6494 3765h0M6521 3792h0M6505 3732h0M6511 3839h0M6501 3676h0M6489 3881h0M6520 3880h0M6520 3856h0M6504 3755h0M6507 3805h0M6523 3612h0M6494 3835h0M6501 3879h0M6491 3775h0M6509 3748h0M6491 3709h0M6522 3707h0M6489 3608h0M7173 3706h0M7182 3815h0M7172 3843h0M7185 3739h0M7181 3751h0M7173 3819h0M7179 3802h0M7183 3767h0M7184 3746h0M7186 3742h0M7183 3659h0M7169 3722h0M7180 3780h0M7173 3718h0M7186 3722h0M7169 3655h0M7169 3739h0M7169 3739h0M7170 3798h0M7170 3505h0" stroke="#eb8cc3" stroke-width="38" stroke-linecap="round" fill="none"/>
<path transform="scale(0.1)" d="M5535 3853h0M5574 3835h0M5509 3864h0M5556 3719h0M5546 3826h0M5522 3844h0M5614 3896h0M5525 3933h0M5599 3853h0M5560 3901h0M5550 3790h0M5602 3925h0M5525 3867h0M5579 3637h0M5608 3716h0M5569 3846h0M5521 3898h0M5509 3855h0M5563 3784h0M5596 3792h0M5562 3913h0M5519 3829h0M5562 3767h0M5546 3756h0M5564 3836h0M5520 3881h0M5531 3903h0M5563 3921h0M5528 3869h0M5519 3847h0M5576 3882h0M5520 3901h0M5558 3754h0M5570 3890h0M5508 3746h0M5547 3823h0M5593 3722h0M5544 3881h0M5618 3866h0M5616 3915h0M5591 3845h0M5602 3829h0M5517 3734h0M5578 3860h0M5541 3858h0M5541 3910h0M5576 3741h0M5574 3897h0M5588 3903h0M5527 3855h0M5528 3890h0M5508 3865h0M5548 3669h0M5531 3626h0M5546 3795h0M5522 3827h0M5617 3622h0M5557 3933h0M5510 3832h0M5547 3867h0M5573 3719h0M5538 3933h0M5592 3842h0M5574 3935h0M5590 3762h0M5587 3696h0M5571 3850h0M5596 3866h0M5543 3868h0M5611 3861h0M5571 3683h0M5581 3729h0M5612 3728h0M5619 3912h0M5544 3772h0M5542 3838h0M5605 3748h0M5562 3701h0M5585 3613h0M5612 3815h0M5510 3835h0M5615 3613h0M5616 3871h0M5552 3785h0M5617 3809h0M5525 3877h0M5515 3912h0M5592 3920h0M5589 3736h0M5529 3894h0M5560 3803h0M5519 3883h0M5528 3924h0M5604 3844h0M5575 3686h0M5610 3895h0M5523 3489h0M6601 3857h0M6595 3914h0M6578 3823h0M6584 3865h0M6584 3637h0M6580 3788h0M6594 3693h0M6592 3805h0M6578 3900h0M6579 3894h0M6593 3864h0M6569 3762h0M6598 3806h0M6595 3699h0M6598 3753h0M6580 3723h0M6579 3870h0M6575 3838h0M6572 3898h0M6585 3868h0M6588 3886h0M6583 3748h0M6575 3535h0M6579 3879h0M6599 3820h0M6593 3800h0M6571 3884h0M6596 3913h0M6591 3489h0M7239 3703h0M7237 3793h0M7232 3786h0M7234 3658h0M7235 3753h0M7239 3780h0M7233 3723h0M7232 3765h0M7239 3699h0M7234 3776h0M7239 3650h0M7236 3806h0M7238 3764h0M7234 3567h0M7232 3798h0M7237 3489h0" stroke="#45d2aa" stroke-width="38" stroke-linecap="round" fill="none"/>
<path transform="scale(0.1)" d="M5670 3645h0M5743 3665h0M5676 3731h0M5720 3879h0M5749 3822h0M5670 3631h0M5694 3647h0M5745 3768h0M5668 3886h0M5714 3900h0M5747 3829h0M5723 3723h0M5706 3607h0M5750 3657h0M5674 3840h0M5712 3850h0M5681 3857h0M5704 3710h0M5690 3667h0M5710 3834h0M5747 3809h0M5733 3885h0M5731 3823h0M5750 3859h0M5744 3831h0M5683 3748h0M5691 3859h0M5677 3859h0M5693 3771h0M5689 3864h0M5727 3898h0M5705 3698h0M5707 3810h0M5675 3887h0M5743 3592h0M5742 3778h0M5695 3783h0M5686 3681h0M5742 3818h0M5728 3672h0M5744 3874h0M5667 3894h0M5737 3898h0M5691 3891h0M5748 3763h0M5726 3847h0M5735 3751h0M5707 3803h0M5678 3776h0M5732 3776h0M5673 3876h0M5727 3841h0M5679 3884h0M5699 3877h0M5678 3865h0M5738 3735h0M5700 3584h0M5680 3520h0M5670 3819h0M5727 3790h0M5724 3903h0M5744 3883h0M5679 3849h0M5696 3825h0M5731 3887h0M5718 3750h0M5738 3636h0M5699 3754h0M5749 3849h0M5750 3763h0M5750 3795h0M5750 3877h0M5724 3830h0M5706 3889h0M5750 3897h0M5708 3516h0M6667 3744h0M6655 3851h0M6659 3801h0M6671 3812h0M6651 3815h0M6670 3694h0M6649 3564h0M6673 3759h0M6654 3845h0M6647 3755h0M6670 3615h0M6662 3846h0M6666 3815h0M6668 3833h0M6648 3800h0M6673 3841h0M6669 3757h0M6662 3859h0M6652 3495h0" stroke="#930d2d" stroke-width="38" stroke-linecap="round" fill="none"/>
<path transform="scale(0.1)" d="M5865 3753h0M5833 3849h0M5821 3657h0M5804 3796h0M5849 3824h0M5814 3729h0M5853 3853h0M5849 3834h0M5851 3792h0M5867 3777h0M5806 3832h0M5851 3665h0M5860 3818h0M5826 3764h0M5834 3592h0M5841 3828h0M5842 3750h0M5865 3862h0M5799 3597h0M5866 3628h0M5843 3798h0M5866 3798h0M5830 3682h0M5841 3798h0M5842 3822h0M5834 3801h0M5825 3524h0M5864 3525h0M5833 3603h0M5839 3855h0M5836 3833h0M5804 3832h0M5818 3840h0M5840 3752h0M5801 3722h0M5844 3861h0M5842 3851h0M5837 3856h0M5826 3747h0M5861 3831h0M5814 3776h0M5845 3755h0M5829 3820h0M5829 3513h0M5826 3719h0M5849 3694h0M5799 3732h0M5798 3557h0M5834 3826h0M5857 3738h0M5822 3656h0M5807 3834h0M5839 3790h0M5804 3844h0M5846 3784h0M5837 3791h0M5818 3858h0M5806 3847h0M5803 3807h0M5844 3489h0M6727 3595h0M6747 3671h0M6761 3677h0M6729 3613h0M6762 3654h0M6764 3578h0M6760 3645h0M6756 3567h0M6748 3665h0M6739 3676h0M6744 3575h0M6762 3636h0M6743 3629h0M6729 3622h0M6727 3620h0M6737 3594h0M6754 3641h0M6724 3675h0M6755 3556h0M6748 3651h0M6739 3605h0M6762 3591h0M6747 3574h0M6749 3678h0M6753 3655h0M6724 3611h0M6760 3568h0M6749 3623h0M6732 3677h0M6739 3671h0M6763 3579h0M6722 3552h0" stroke="#037656" stroke-width="38" stroke-linecap="round" fill="none"/>
<line x1="255" y1="327.3" x2="725.4" y2="327.3" stroke="#e4e4e4" stroke-width="1.3"/>
<line x1="255" y1="347.3" x2="725" y2="347.3" stroke="#3a3a3a" stroke-width="0.7" stroke-dasharray="1.8 1.6"/>
<path transform="scale(0.1)" d="M2618 3404h0M2604 3443h0M2628 3459h0M2638 3420h0M2711 3404h0M2929 3315h0M2916 3426h0M2925 3433h0M2929 3474h0M3095 3297h0M3140 3379h0M3192 3449h0M3289 3379h0M3412 3313h0M3416 3375h0M3392 3406h0M3425 3406h0M3468 3338h0M3500 3361h0M3509 3290h0M3542 3293h0M3474 3420h0M3495 3424h0M3624 3370h0M3650 3370h0M3643 3443h0M3712 3361h0M3717 3280h0M3727 3435h0M3719 3284h0M3712 3355h0M3752 3344h0M3783 3327h0M3847 3280h0M3866 3291h0M3729 3434h0M3814 3446h0M3854 3443h0M3926 3398h0M3933 3462h0M4132 3308h0M4116 3417h0M4306 3396h0M4306 3424h0M4358 3398h0M4432 3379h0M4313 3450h0M4370 3450h0M4401 3439h0M4501 3455h0M4610 3308h0M4579 3346h0M4598 3375h0M4610 3398h0M4686 3336h0M4679 3415h0M4784 3443h0M4822 3443h0M4876 3315h0M4878 3315h0M4900 3415h0M4907 3446h0M4938 3277h0M4938 3337h0M4966 3360h0M4973 3450h0M5066 3415h0M5080 3384h0M5180 3400h0M5190 3425h0M5220 3390h0M5235 3350h0M5225 3440h0M5282 3363h0M5361 3375h0M5392 3296h0M5430 3391h0M5470 3434h0M5520 3325h0M5598 3332h0M5608 3372h0M5520 3462h0M5743 3458h0M5834 3470h0M5936 3307h0M5973 3325h0M5939 3411h0M5965 3424h0M5931 3442h0M5973 3390h0M6024 3289h0M6024 3385h0M6206 3294h0M6190 3346h0M6190 3416h0M6281 3341h0M6307 3450h0M6392 3411h0M6504 3359h0M6504 3398h0M6652 3307h0M6670 3286h0M6670 3442h0M6730 3333h0M6730 3390h0M6763 3302h0M6763 3333h0M7009 3398h0M7118 3463h0M7183 3315h0" stroke="#f8a81c" stroke-width="28" stroke-linecap="round" fill="none"/>
<path transform="scale(0.1)" d="M3036 2955h0M2875 3118h0M2924 3116h0M2945 3077h0M3038 3116h0M3159 3037h0M3141 3126h0M3032 3256h0M3544 2770h0M3459 3009h0M3509 3040h0M3484 3216h0M3497 3229h0M3488 3225h0M3412 3260h0M3723 3229h0M3724 3230h0M3859 3230h0M4128 3154h0M4128 3208h0M4187 2902h0M4277 3094h0M4308 3244h0M4394 2769h0M4449 2671h0M4441 2923h0M4449 3054h0M4444 3092h0M4449 3144h0M4520 3137h0M4620 2821h0M4603 2968h0M4667 3092h0M4684 3120h0M4598 3215h0M4620 3215h0M4893 3173h0M4962 2925h0M5221 2769h0M5282 3182h0M5969 3077h0M5938 3165h0M5941 3196h0M5936 3251h0M6061 3079h0M6100 3100h0M6203 3248h0M6268 3268h0M6509 3250h0M6667 2944h0M6678 2991h0M6678 3167h0M6660 3232h0M6768 2540h0M6768 2859h0M6768 3079h0M6768 3255h0" stroke="#f5141a" stroke-width="26" stroke-linecap="round" fill="none"/>
<path d="M254.5 247.5V420.0" stroke="#555555" stroke-width="1" fill="none"/>
<path d="M251.5 420.0H254.5M251.5 388.4H254.5M251.5 356.8H254.5M251.5 325.2H254.5M251.5 293.6H254.5M251.5 262.0H254.5" stroke="#555555" stroke-width="1" fill="none"/>
<text x="240.4" y="265.9" text-anchor="middle" font-size="11">10</text>
<text x="240.4" y="291.4" text-anchor="middle" font-size="11">8</text>
<text x="240.4" y="324.9" text-anchor="middle" font-size="11">6</text>
<text x="240.4" y="359.6" text-anchor="middle" font-size="11">4</text>
<text x="240.4" y="391.9" text-anchor="middle" font-size="11">2</text>
<text x="240.4" y="423.3" text-anchor="middle" font-size="11">0</text>
<path d="M254.5 427.1H724.7" stroke="#555555" stroke-width="1" fill="none"/>
<path d="M254.5 427.1v4M296.4 427.1v4M368.4 427.1v4M423.1 427.1v4M466.0 427.1v4M499.3 427.1v4M522.2 427.1v4M539.7 427.1v4M556.4 427.1v4M570.8 427.1v4M583.2 427.1v4M594.9 427.1v4M606.6 427.1v4M617.8 427.1v4M628.4 427.1v4M637.5 427.1v4M644.4 427.1v4M650.6 427.1v4M658.5 427.1v4M666.0 427.1v4M674.3 427.1v4M682.4 427.1v4M688.5 427.1v4M694.2 427.1v4M700.2 427.1v4M705.8 427.1v4M711.5 427.1v4M717.8 427.1v4M723.5 427.1v4" stroke="#555555" stroke-width="1" fill="none"/>
<text x="253.3" y="445.1" text-anchor="middle" font-size="11">chr</text>
<text x="296.8" y="445.1" text-anchor="middle" font-size="11">1</text>
<text x="369.6" y="445.1" text-anchor="middle" font-size="11">2</text>
<text x="421.9" y="445.1" text-anchor="middle" font-size="11">3</text>
<text x="466.8" y="445.1" text-anchor="middle" font-size="11">4</text>
<text x="498.5" y="445.1" text-anchor="middle" font-size="11">5</text>
<text x="585.8" y="445.1" text-anchor="middle" font-size="11">10</text>
<text x="658.7" y="445.1" text-anchor="middle" font-size="11">18</text>
<text x="724.2" y="445.1" text-anchor="middle" font-size="11">28</text>
<text transform="translate(222 337.9) rotate(-90)" text-anchor="middle" font-size="12.2">&#8722;log<tspan font-size="8.5" dy="2.5">10</tspan><tspan dy="-2.5">(</tspan><tspan font-style="italic">p</tspan>)</text>
<text x="217.8" y="249.8" font-size="16.5" font-weight="bold">D</text>
</svg></body></html>
